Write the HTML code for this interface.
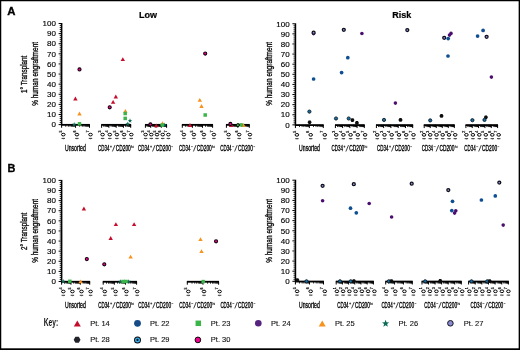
<!DOCTYPE html>
<html><head><meta charset="utf-8"><title>Figure</title>
<style>html,body{margin:0;padding:0;background:#fff;}svg{display:block;will-change:transform}text{font-family:"Liberation Sans",sans-serif;}</style>
</head><body>
<svg width="520" height="350" viewBox="0 0 520 350">
<rect x="0" y="0" width="520" height="350" fill="#fff"/>
<defs><filter id="b" x="-5%" y="-5%" width="110%" height="110%"><feGaussianBlur stdDeviation="0.3"/></filter></defs>
<g filter="url(#b)">
<text x="7.3" y="15.4" font-size="10.3" font-weight="bold" textLength="8.2" lengthAdjust="spacingAndGlyphs" fill="#000" stroke="#000" stroke-width="0.3" font-family="Liberation Sans, sans-serif">A</text>
<text x="7.5" y="172.2" font-size="10.3" font-weight="bold" textLength="7.9" lengthAdjust="spacingAndGlyphs" fill="#000" stroke="#000" stroke-width="0.3" font-family="Liberation Sans, sans-serif">B</text>
<text x="139" y="18" font-size="9" font-weight="bold" fill="#000" stroke="#000" stroke-width="0.2" font-family="Liberation Sans, sans-serif">Low</text>
<text x="392.3" y="18" font-size="9" font-weight="bold" fill="#000" stroke="#000" stroke-width="0.2" font-family="Liberation Sans, sans-serif">Risk</text>
<g transform="translate(27.10,92.95) rotate(-90)"><text x="0" y="0" font-size="8.6" textLength="37.30" lengthAdjust="spacingAndGlyphs" fill="#000" stroke="#000" stroke-width="0.3" font-family="Liberation Sans, sans-serif">1° Transplant</text></g>
<g transform="translate(38.00,105.85) rotate(-90)"><text x="0" y="0" font-size="8.6" textLength="63.90" lengthAdjust="spacingAndGlyphs" fill="#000" stroke="#000" stroke-width="0.3" font-family="Liberation Sans, sans-serif">% human engraftment</text></g>
<g transform="translate(27.10,249.95) rotate(-90)"><text x="0" y="0" font-size="8.6" textLength="37.30" lengthAdjust="spacingAndGlyphs" fill="#000" stroke="#000" stroke-width="0.3" font-family="Liberation Sans, sans-serif">2° Transplant</text></g>
<g transform="translate(38.00,262.85) rotate(-90)"><text x="0" y="0" font-size="8.6" textLength="63.90" lengthAdjust="spacingAndGlyphs" fill="#000" stroke="#000" stroke-width="0.3" font-family="Liberation Sans, sans-serif">% human engraftment</text></g>
<g transform="translate(271.90,105.85) rotate(-90)"><text x="0" y="0" font-size="8.6" textLength="63.90" lengthAdjust="spacingAndGlyphs" fill="#000" stroke="#000" stroke-width="0.3" font-family="Liberation Sans, sans-serif">% human engraftment</text></g>
<g transform="translate(271.90,262.85) rotate(-90)"><text x="0" y="0" font-size="8.6" textLength="63.90" lengthAdjust="spacingAndGlyphs" fill="#000" stroke="#000" stroke-width="0.3" font-family="Liberation Sans, sans-serif">% human engraftment</text></g>
<rect x="60.80" y="23.00" width="1.6" height="102.40" fill="#000"/>
<rect x="58.60" y="124.10" width="2.4" height="1" fill="#000"/>
<rect x="59.70" y="122.18" width="1.3" height="0.8" fill="#000"/>
<rect x="59.70" y="120.16" width="1.3" height="0.8" fill="#000"/>
<rect x="59.70" y="118.13" width="1.3" height="0.8" fill="#000"/>
<rect x="59.70" y="116.11" width="1.3" height="0.8" fill="#000"/>
<rect x="58.60" y="113.99" width="2.4" height="1" fill="#000"/>
<rect x="59.70" y="112.07" width="1.3" height="0.8" fill="#000"/>
<rect x="59.70" y="110.05" width="1.3" height="0.8" fill="#000"/>
<rect x="59.70" y="108.02" width="1.3" height="0.8" fill="#000"/>
<rect x="59.70" y="106.00" width="1.3" height="0.8" fill="#000"/>
<rect x="58.60" y="103.88" width="2.4" height="1" fill="#000"/>
<rect x="59.70" y="101.96" width="1.3" height="0.8" fill="#000"/>
<rect x="59.70" y="99.94" width="1.3" height="0.8" fill="#000"/>
<rect x="59.70" y="97.91" width="1.3" height="0.8" fill="#000"/>
<rect x="59.70" y="95.89" width="1.3" height="0.8" fill="#000"/>
<rect x="58.60" y="93.77" width="2.4" height="1" fill="#000"/>
<rect x="59.70" y="91.85" width="1.3" height="0.8" fill="#000"/>
<rect x="59.70" y="89.83" width="1.3" height="0.8" fill="#000"/>
<rect x="59.70" y="87.80" width="1.3" height="0.8" fill="#000"/>
<rect x="59.70" y="85.78" width="1.3" height="0.8" fill="#000"/>
<rect x="58.60" y="83.66" width="2.4" height="1" fill="#000"/>
<rect x="59.70" y="81.74" width="1.3" height="0.8" fill="#000"/>
<rect x="59.70" y="79.72" width="1.3" height="0.8" fill="#000"/>
<rect x="59.70" y="77.69" width="1.3" height="0.8" fill="#000"/>
<rect x="59.70" y="75.67" width="1.3" height="0.8" fill="#000"/>
<rect x="58.60" y="73.55" width="2.4" height="1" fill="#000"/>
<rect x="59.70" y="71.63" width="1.3" height="0.8" fill="#000"/>
<rect x="59.70" y="69.61" width="1.3" height="0.8" fill="#000"/>
<rect x="59.70" y="67.58" width="1.3" height="0.8" fill="#000"/>
<rect x="59.70" y="65.56" width="1.3" height="0.8" fill="#000"/>
<rect x="58.60" y="63.44" width="2.4" height="1" fill="#000"/>
<rect x="59.70" y="61.52" width="1.3" height="0.8" fill="#000"/>
<rect x="59.70" y="59.50" width="1.3" height="0.8" fill="#000"/>
<rect x="59.70" y="57.47" width="1.3" height="0.8" fill="#000"/>
<rect x="59.70" y="55.45" width="1.3" height="0.8" fill="#000"/>
<rect x="58.60" y="53.33" width="2.4" height="1" fill="#000"/>
<rect x="59.70" y="51.41" width="1.3" height="0.8" fill="#000"/>
<rect x="59.70" y="49.39" width="1.3" height="0.8" fill="#000"/>
<rect x="59.70" y="47.36" width="1.3" height="0.8" fill="#000"/>
<rect x="59.70" y="45.34" width="1.3" height="0.8" fill="#000"/>
<rect x="58.60" y="43.22" width="2.4" height="1" fill="#000"/>
<rect x="59.70" y="41.30" width="1.3" height="0.8" fill="#000"/>
<rect x="59.70" y="39.28" width="1.3" height="0.8" fill="#000"/>
<rect x="59.70" y="37.25" width="1.3" height="0.8" fill="#000"/>
<rect x="59.70" y="35.23" width="1.3" height="0.8" fill="#000"/>
<rect x="58.60" y="33.11" width="2.4" height="1" fill="#000"/>
<rect x="59.70" y="31.19" width="1.3" height="0.8" fill="#000"/>
<rect x="59.70" y="29.17" width="1.3" height="0.8" fill="#000"/>
<rect x="59.70" y="27.14" width="1.3" height="0.8" fill="#000"/>
<rect x="59.70" y="25.12" width="1.3" height="0.8" fill="#000"/>
<rect x="58.60" y="23.00" width="2.4" height="1" fill="#000"/>
<text x="55.90" y="127.35" font-size="8" text-anchor="end" fill="#000" stroke="#000" stroke-width="0.15" font-family="Liberation Sans, sans-serif">0</text>
<text x="55.90" y="117.24" font-size="8" text-anchor="end" fill="#000" stroke="#000" stroke-width="0.15" font-family="Liberation Sans, sans-serif">10</text>
<text x="55.90" y="107.13" font-size="8" text-anchor="end" fill="#000" stroke="#000" stroke-width="0.15" font-family="Liberation Sans, sans-serif">20</text>
<text x="55.90" y="97.02" font-size="8" text-anchor="end" fill="#000" stroke="#000" stroke-width="0.15" font-family="Liberation Sans, sans-serif">30</text>
<text x="55.90" y="86.91" font-size="8" text-anchor="end" fill="#000" stroke="#000" stroke-width="0.15" font-family="Liberation Sans, sans-serif">40</text>
<text x="55.90" y="76.80" font-size="8" text-anchor="end" fill="#000" stroke="#000" stroke-width="0.15" font-family="Liberation Sans, sans-serif">50</text>
<text x="55.90" y="66.69" font-size="8" text-anchor="end" fill="#000" stroke="#000" stroke-width="0.15" font-family="Liberation Sans, sans-serif">60</text>
<text x="55.90" y="56.58" font-size="8" text-anchor="end" fill="#000" stroke="#000" stroke-width="0.15" font-family="Liberation Sans, sans-serif">70</text>
<text x="55.90" y="46.47" font-size="8" text-anchor="end" fill="#000" stroke="#000" stroke-width="0.15" font-family="Liberation Sans, sans-serif">80</text>
<text x="55.90" y="36.36" font-size="8" text-anchor="end" fill="#000" stroke="#000" stroke-width="0.15" font-family="Liberation Sans, sans-serif">90</text>
<text x="55.90" y="26.25" font-size="8" text-anchor="end" fill="#000" stroke="#000" stroke-width="0.15" font-family="Liberation Sans, sans-serif">100</text>
<rect x="61.20" y="123.95" width="28.70" height="1.8" fill="#000"/>
<rect x="61.10" y="124.60" width="1" height="3.2" fill="#000"/>
<rect x="65.40" y="124.60" width="0.8" height="2.2" fill="#000"/>
<rect x="67.86" y="124.60" width="0.8" height="2.2" fill="#000"/>
<rect x="69.60" y="124.60" width="0.8" height="2.2" fill="#000"/>
<rect x="70.95" y="124.60" width="0.8" height="2.2" fill="#000"/>
<rect x="72.06" y="124.60" width="0.8" height="2.2" fill="#000"/>
<rect x="72.99" y="124.60" width="0.8" height="2.2" fill="#000"/>
<rect x="73.80" y="124.60" width="0.8" height="2.2" fill="#000"/>
<rect x="74.51" y="124.60" width="0.8" height="2.2" fill="#000"/>
<rect x="75.05" y="124.60" width="1" height="3.2" fill="#000"/>
<rect x="79.35" y="124.60" width="0.8" height="2.2" fill="#000"/>
<rect x="81.81" y="124.60" width="0.8" height="2.2" fill="#000"/>
<rect x="83.55" y="124.60" width="0.8" height="2.2" fill="#000"/>
<rect x="84.90" y="124.60" width="0.8" height="2.2" fill="#000"/>
<rect x="86.01" y="124.60" width="0.8" height="2.2" fill="#000"/>
<rect x="86.94" y="124.60" width="0.8" height="2.2" fill="#000"/>
<rect x="87.75" y="124.60" width="0.8" height="2.2" fill="#000"/>
<rect x="88.46" y="124.60" width="0.8" height="2.2" fill="#000"/>
<rect x="89.00" y="124.60" width="1" height="3.2" fill="#000"/>
<line x1="61.60" y1="138.40" x2="65.00" y2="138.40" stroke="#111" stroke-width="0.85"/>
<line x1="64.20" y1="138.20" x2="63.40" y2="139.40" stroke="#555" stroke-width="0.6"/>
<ellipse cx="63.30" cy="134.60" rx="1.8" ry="1.35" fill="none" stroke="#000" stroke-width="1.0"/>
<g class="tl" transform="translate(61.90,132.60) rotate(-90)"><text x="0" y="0" font-size="3.6" fill="#000" stroke="#000" stroke-width="0.2" font-family="Liberation Sans, sans-serif">5</text></g>
<line x1="75.20" y1="138.40" x2="78.60" y2="138.40" stroke="#111" stroke-width="0.85"/>
<line x1="77.80" y1="138.20" x2="77.00" y2="139.40" stroke="#555" stroke-width="0.6"/>
<ellipse cx="76.90" cy="134.60" rx="1.8" ry="1.35" fill="none" stroke="#000" stroke-width="1.0"/>
<g class="tl" transform="translate(75.50,132.60) rotate(-90)"><text x="0" y="0" font-size="3.6" fill="#000" stroke="#000" stroke-width="0.2" font-family="Liberation Sans, sans-serif">6</text></g>
<line x1="88.80" y1="138.40" x2="92.20" y2="138.40" stroke="#111" stroke-width="0.85"/>
<line x1="91.40" y1="138.20" x2="90.60" y2="139.40" stroke="#555" stroke-width="0.6"/>
<ellipse cx="90.50" cy="134.60" rx="1.8" ry="1.35" fill="none" stroke="#000" stroke-width="1.0"/>
<g class="tl" transform="translate(89.10,132.60) rotate(-90)"><text x="0" y="0" font-size="3.6" fill="#000" stroke="#000" stroke-width="0.2" font-family="Liberation Sans, sans-serif">7</text></g>
<rect x="101.20" y="123.95" width="29.90" height="1.8" fill="#000"/>
<rect x="101.10" y="124.60" width="1" height="3.2" fill="#000"/>
<rect x="103.39" y="124.60" width="0.8" height="2.2" fill="#000"/>
<rect x="104.67" y="124.60" width="0.8" height="2.2" fill="#000"/>
<rect x="105.58" y="124.60" width="0.8" height="2.2" fill="#000"/>
<rect x="106.29" y="124.60" width="0.8" height="2.2" fill="#000"/>
<rect x="106.86" y="124.60" width="0.8" height="2.2" fill="#000"/>
<rect x="107.35" y="124.60" width="0.8" height="2.2" fill="#000"/>
<rect x="107.77" y="124.60" width="0.8" height="2.2" fill="#000"/>
<rect x="108.14" y="124.60" width="0.8" height="2.2" fill="#000"/>
<rect x="108.38" y="124.60" width="1" height="3.2" fill="#000"/>
<rect x="110.66" y="124.60" width="0.8" height="2.2" fill="#000"/>
<rect x="111.95" y="124.60" width="0.8" height="2.2" fill="#000"/>
<rect x="112.85" y="124.60" width="0.8" height="2.2" fill="#000"/>
<rect x="113.56" y="124.60" width="0.8" height="2.2" fill="#000"/>
<rect x="114.14" y="124.60" width="0.8" height="2.2" fill="#000"/>
<rect x="114.62" y="124.60" width="0.8" height="2.2" fill="#000"/>
<rect x="115.04" y="124.60" width="0.8" height="2.2" fill="#000"/>
<rect x="115.42" y="124.60" width="0.8" height="2.2" fill="#000"/>
<rect x="115.65" y="124.60" width="1" height="3.2" fill="#000"/>
<rect x="117.94" y="124.60" width="0.8" height="2.2" fill="#000"/>
<rect x="119.22" y="124.60" width="0.8" height="2.2" fill="#000"/>
<rect x="120.13" y="124.60" width="0.8" height="2.2" fill="#000"/>
<rect x="120.84" y="124.60" width="0.8" height="2.2" fill="#000"/>
<rect x="121.41" y="124.60" width="0.8" height="2.2" fill="#000"/>
<rect x="121.90" y="124.60" width="0.8" height="2.2" fill="#000"/>
<rect x="122.32" y="124.60" width="0.8" height="2.2" fill="#000"/>
<rect x="122.69" y="124.60" width="0.8" height="2.2" fill="#000"/>
<rect x="122.92" y="124.60" width="1" height="3.2" fill="#000"/>
<rect x="125.21" y="124.60" width="0.8" height="2.2" fill="#000"/>
<rect x="126.50" y="124.60" width="0.8" height="2.2" fill="#000"/>
<rect x="127.40" y="124.60" width="0.8" height="2.2" fill="#000"/>
<rect x="128.11" y="124.60" width="0.8" height="2.2" fill="#000"/>
<rect x="128.69" y="124.60" width="0.8" height="2.2" fill="#000"/>
<rect x="129.17" y="124.60" width="0.8" height="2.2" fill="#000"/>
<rect x="129.59" y="124.60" width="0.8" height="2.2" fill="#000"/>
<rect x="129.97" y="124.60" width="0.8" height="2.2" fill="#000"/>
<rect x="130.20" y="124.60" width="1" height="3.2" fill="#000"/>
<line x1="100.90" y1="138.40" x2="104.30" y2="138.40" stroke="#111" stroke-width="0.85"/>
<line x1="103.50" y1="138.20" x2="102.70" y2="139.40" stroke="#555" stroke-width="0.6"/>
<ellipse cx="102.60" cy="134.60" rx="1.8" ry="1.35" fill="none" stroke="#000" stroke-width="1.0"/>
<g class="tl" transform="translate(101.20,132.60) rotate(-90)"><text x="0" y="0" font-size="3.6" fill="#000" stroke="#000" stroke-width="0.2" font-family="Liberation Sans, sans-serif">3</text></g>
<line x1="108.10" y1="138.40" x2="111.50" y2="138.40" stroke="#111" stroke-width="0.85"/>
<line x1="110.70" y1="138.20" x2="109.90" y2="139.40" stroke="#555" stroke-width="0.6"/>
<ellipse cx="109.80" cy="134.60" rx="1.8" ry="1.35" fill="none" stroke="#000" stroke-width="1.0"/>
<g class="tl" transform="translate(108.40,132.60) rotate(-90)"><text x="0" y="0" font-size="3.6" fill="#000" stroke="#000" stroke-width="0.2" font-family="Liberation Sans, sans-serif">4</text></g>
<line x1="115.20" y1="138.40" x2="118.60" y2="138.40" stroke="#111" stroke-width="0.85"/>
<line x1="117.80" y1="138.20" x2="117.00" y2="139.40" stroke="#555" stroke-width="0.6"/>
<ellipse cx="116.90" cy="134.60" rx="1.8" ry="1.35" fill="none" stroke="#000" stroke-width="1.0"/>
<g class="tl" transform="translate(115.50,132.60) rotate(-90)"><text x="0" y="0" font-size="3.6" fill="#000" stroke="#000" stroke-width="0.2" font-family="Liberation Sans, sans-serif">5</text></g>
<line x1="122.40" y1="138.40" x2="125.80" y2="138.40" stroke="#111" stroke-width="0.85"/>
<line x1="125.00" y1="138.20" x2="124.20" y2="139.40" stroke="#555" stroke-width="0.6"/>
<ellipse cx="124.10" cy="134.60" rx="1.8" ry="1.35" fill="none" stroke="#000" stroke-width="1.0"/>
<g class="tl" transform="translate(122.70,132.60) rotate(-90)"><text x="0" y="0" font-size="3.6" fill="#000" stroke="#000" stroke-width="0.2" font-family="Liberation Sans, sans-serif">6</text></g>
<line x1="129.60" y1="138.40" x2="133.00" y2="138.40" stroke="#111" stroke-width="0.85"/>
<line x1="132.20" y1="138.20" x2="131.40" y2="139.40" stroke="#555" stroke-width="0.6"/>
<ellipse cx="131.30" cy="134.60" rx="1.8" ry="1.35" fill="none" stroke="#000" stroke-width="1.0"/>
<g class="tl" transform="translate(129.90,132.60) rotate(-90)"><text x="0" y="0" font-size="3.6" fill="#000" stroke="#000" stroke-width="0.2" font-family="Liberation Sans, sans-serif">7</text></g>
<rect x="145.00" y="123.95" width="22.00" height="1.8" fill="#000"/>
<rect x="144.90" y="124.60" width="1" height="3.2" fill="#000"/>
<rect x="146.60" y="124.60" width="0.8" height="2.2" fill="#000"/>
<rect x="147.53" y="124.60" width="0.8" height="2.2" fill="#000"/>
<rect x="148.19" y="124.60" width="0.8" height="2.2" fill="#000"/>
<rect x="148.70" y="124.60" width="0.8" height="2.2" fill="#000"/>
<rect x="149.12" y="124.60" width="0.8" height="2.2" fill="#000"/>
<rect x="149.48" y="124.60" width="0.8" height="2.2" fill="#000"/>
<rect x="149.79" y="124.60" width="0.8" height="2.2" fill="#000"/>
<rect x="150.06" y="124.60" width="0.8" height="2.2" fill="#000"/>
<rect x="150.20" y="124.60" width="1" height="3.2" fill="#000"/>
<rect x="151.90" y="124.60" width="0.8" height="2.2" fill="#000"/>
<rect x="152.83" y="124.60" width="0.8" height="2.2" fill="#000"/>
<rect x="153.49" y="124.60" width="0.8" height="2.2" fill="#000"/>
<rect x="154.00" y="124.60" width="0.8" height="2.2" fill="#000"/>
<rect x="154.42" y="124.60" width="0.8" height="2.2" fill="#000"/>
<rect x="154.78" y="124.60" width="0.8" height="2.2" fill="#000"/>
<rect x="155.09" y="124.60" width="0.8" height="2.2" fill="#000"/>
<rect x="155.36" y="124.60" width="0.8" height="2.2" fill="#000"/>
<rect x="155.50" y="124.60" width="1" height="3.2" fill="#000"/>
<rect x="157.20" y="124.60" width="0.8" height="2.2" fill="#000"/>
<rect x="158.13" y="124.60" width="0.8" height="2.2" fill="#000"/>
<rect x="158.79" y="124.60" width="0.8" height="2.2" fill="#000"/>
<rect x="159.30" y="124.60" width="0.8" height="2.2" fill="#000"/>
<rect x="159.72" y="124.60" width="0.8" height="2.2" fill="#000"/>
<rect x="160.08" y="124.60" width="0.8" height="2.2" fill="#000"/>
<rect x="160.39" y="124.60" width="0.8" height="2.2" fill="#000"/>
<rect x="160.66" y="124.60" width="0.8" height="2.2" fill="#000"/>
<rect x="160.80" y="124.60" width="1" height="3.2" fill="#000"/>
<rect x="162.50" y="124.60" width="0.8" height="2.2" fill="#000"/>
<rect x="163.43" y="124.60" width="0.8" height="2.2" fill="#000"/>
<rect x="164.09" y="124.60" width="0.8" height="2.2" fill="#000"/>
<rect x="164.60" y="124.60" width="0.8" height="2.2" fill="#000"/>
<rect x="165.02" y="124.60" width="0.8" height="2.2" fill="#000"/>
<rect x="165.38" y="124.60" width="0.8" height="2.2" fill="#000"/>
<rect x="165.69" y="124.60" width="0.8" height="2.2" fill="#000"/>
<rect x="165.96" y="124.60" width="0.8" height="2.2" fill="#000"/>
<rect x="166.10" y="124.60" width="1" height="3.2" fill="#000"/>
<line x1="143.90" y1="138.40" x2="147.30" y2="138.40" stroke="#111" stroke-width="0.85"/>
<line x1="146.50" y1="138.20" x2="145.70" y2="139.40" stroke="#555" stroke-width="0.6"/>
<ellipse cx="145.60" cy="134.60" rx="1.8" ry="1.35" fill="none" stroke="#000" stroke-width="1.0"/>
<g class="tl" transform="translate(144.20,132.60) rotate(-90)"><text x="0" y="0" font-size="3.6" fill="#000" stroke="#000" stroke-width="0.2" font-family="Liberation Sans, sans-serif">3</text></g>
<line x1="149.60" y1="138.40" x2="153.00" y2="138.40" stroke="#111" stroke-width="0.85"/>
<line x1="152.20" y1="138.20" x2="151.40" y2="139.40" stroke="#555" stroke-width="0.6"/>
<ellipse cx="151.30" cy="134.60" rx="1.8" ry="1.35" fill="none" stroke="#000" stroke-width="1.0"/>
<g class="tl" transform="translate(149.90,132.60) rotate(-90)"><text x="0" y="0" font-size="3.6" fill="#000" stroke="#000" stroke-width="0.2" font-family="Liberation Sans, sans-serif">4</text></g>
<line x1="155.30" y1="138.40" x2="158.70" y2="138.40" stroke="#111" stroke-width="0.85"/>
<line x1="157.90" y1="138.20" x2="157.10" y2="139.40" stroke="#555" stroke-width="0.6"/>
<ellipse cx="157.00" cy="134.60" rx="1.8" ry="1.35" fill="none" stroke="#000" stroke-width="1.0"/>
<g class="tl" transform="translate(155.60,132.60) rotate(-90)"><text x="0" y="0" font-size="3.6" fill="#000" stroke="#000" stroke-width="0.2" font-family="Liberation Sans, sans-serif">5</text></g>
<line x1="161.00" y1="138.40" x2="164.40" y2="138.40" stroke="#111" stroke-width="0.85"/>
<line x1="163.60" y1="138.20" x2="162.80" y2="139.40" stroke="#555" stroke-width="0.6"/>
<ellipse cx="162.70" cy="134.60" rx="1.8" ry="1.35" fill="none" stroke="#000" stroke-width="1.0"/>
<g class="tl" transform="translate(161.30,132.60) rotate(-90)"><text x="0" y="0" font-size="3.6" fill="#000" stroke="#000" stroke-width="0.2" font-family="Liberation Sans, sans-serif">6</text></g>
<line x1="166.70" y1="138.40" x2="170.10" y2="138.40" stroke="#111" stroke-width="0.85"/>
<line x1="169.30" y1="138.20" x2="168.50" y2="139.40" stroke="#555" stroke-width="0.6"/>
<ellipse cx="168.40" cy="134.60" rx="1.8" ry="1.35" fill="none" stroke="#000" stroke-width="1.0"/>
<g class="tl" transform="translate(167.00,132.60) rotate(-90)"><text x="0" y="0" font-size="3.6" fill="#000" stroke="#000" stroke-width="0.2" font-family="Liberation Sans, sans-serif">7</text></g>
<rect x="181.90" y="123.95" width="31.10" height="1.8" fill="#000"/>
<rect x="181.80" y="124.60" width="1" height="3.2" fill="#000"/>
<rect x="184.94" y="124.60" width="0.8" height="2.2" fill="#000"/>
<rect x="186.72" y="124.60" width="0.8" height="2.2" fill="#000"/>
<rect x="187.98" y="124.60" width="0.8" height="2.2" fill="#000"/>
<rect x="188.96" y="124.60" width="0.8" height="2.2" fill="#000"/>
<rect x="189.76" y="124.60" width="0.8" height="2.2" fill="#000"/>
<rect x="190.44" y="124.60" width="0.8" height="2.2" fill="#000"/>
<rect x="191.02" y="124.60" width="0.8" height="2.2" fill="#000"/>
<rect x="191.54" y="124.60" width="0.8" height="2.2" fill="#000"/>
<rect x="191.90" y="124.60" width="1" height="3.2" fill="#000"/>
<rect x="195.04" y="124.60" width="0.8" height="2.2" fill="#000"/>
<rect x="196.82" y="124.60" width="0.8" height="2.2" fill="#000"/>
<rect x="198.08" y="124.60" width="0.8" height="2.2" fill="#000"/>
<rect x="199.06" y="124.60" width="0.8" height="2.2" fill="#000"/>
<rect x="199.86" y="124.60" width="0.8" height="2.2" fill="#000"/>
<rect x="200.54" y="124.60" width="0.8" height="2.2" fill="#000"/>
<rect x="201.12" y="124.60" width="0.8" height="2.2" fill="#000"/>
<rect x="201.64" y="124.60" width="0.8" height="2.2" fill="#000"/>
<rect x="202.00" y="124.60" width="1" height="3.2" fill="#000"/>
<rect x="205.14" y="124.60" width="0.8" height="2.2" fill="#000"/>
<rect x="206.92" y="124.60" width="0.8" height="2.2" fill="#000"/>
<rect x="208.18" y="124.60" width="0.8" height="2.2" fill="#000"/>
<rect x="209.16" y="124.60" width="0.8" height="2.2" fill="#000"/>
<rect x="209.96" y="124.60" width="0.8" height="2.2" fill="#000"/>
<rect x="210.64" y="124.60" width="0.8" height="2.2" fill="#000"/>
<rect x="211.22" y="124.60" width="0.8" height="2.2" fill="#000"/>
<rect x="211.74" y="124.60" width="0.8" height="2.2" fill="#000"/>
<rect x="212.10" y="124.60" width="1" height="3.2" fill="#000"/>
<line x1="182.20" y1="138.40" x2="185.60" y2="138.40" stroke="#111" stroke-width="0.85"/>
<line x1="184.80" y1="138.20" x2="184.00" y2="139.40" stroke="#555" stroke-width="0.6"/>
<ellipse cx="183.90" cy="134.60" rx="1.8" ry="1.35" fill="none" stroke="#000" stroke-width="1.0"/>
<g class="tl" transform="translate(182.50,132.60) rotate(-90)"><text x="0" y="0" font-size="3.6" fill="#000" stroke="#000" stroke-width="0.2" font-family="Liberation Sans, sans-serif">4</text></g>
<line x1="192.20" y1="138.40" x2="195.60" y2="138.40" stroke="#111" stroke-width="0.85"/>
<line x1="194.80" y1="138.20" x2="194.00" y2="139.40" stroke="#555" stroke-width="0.6"/>
<ellipse cx="193.90" cy="134.60" rx="1.8" ry="1.35" fill="none" stroke="#000" stroke-width="1.0"/>
<g class="tl" transform="translate(192.50,132.60) rotate(-90)"><text x="0" y="0" font-size="3.6" fill="#000" stroke="#000" stroke-width="0.2" font-family="Liberation Sans, sans-serif">5</text></g>
<line x1="202.20" y1="138.40" x2="205.60" y2="138.40" stroke="#111" stroke-width="0.85"/>
<line x1="204.80" y1="138.20" x2="204.00" y2="139.40" stroke="#555" stroke-width="0.6"/>
<ellipse cx="203.90" cy="134.60" rx="1.8" ry="1.35" fill="none" stroke="#000" stroke-width="1.0"/>
<g class="tl" transform="translate(202.50,132.60) rotate(-90)"><text x="0" y="0" font-size="3.6" fill="#000" stroke="#000" stroke-width="0.2" font-family="Liberation Sans, sans-serif">6</text></g>
<line x1="212.20" y1="138.40" x2="215.60" y2="138.40" stroke="#111" stroke-width="0.85"/>
<line x1="214.80" y1="138.20" x2="214.00" y2="139.40" stroke="#555" stroke-width="0.6"/>
<ellipse cx="213.90" cy="134.60" rx="1.8" ry="1.35" fill="none" stroke="#000" stroke-width="1.0"/>
<g class="tl" transform="translate(212.50,132.60) rotate(-90)"><text x="0" y="0" font-size="3.6" fill="#000" stroke="#000" stroke-width="0.2" font-family="Liberation Sans, sans-serif">7</text></g>
<rect x="226.00" y="123.95" width="23.70" height="1.8" fill="#000"/>
<rect x="225.90" y="124.60" width="1" height="3.2" fill="#000"/>
<rect x="229.45" y="124.60" width="0.8" height="2.2" fill="#000"/>
<rect x="231.46" y="124.60" width="0.8" height="2.2" fill="#000"/>
<rect x="232.89" y="124.60" width="0.8" height="2.2" fill="#000"/>
<rect x="234.00" y="124.60" width="0.8" height="2.2" fill="#000"/>
<rect x="234.91" y="124.60" width="0.8" height="2.2" fill="#000"/>
<rect x="235.68" y="124.60" width="0.8" height="2.2" fill="#000"/>
<rect x="236.34" y="124.60" width="0.8" height="2.2" fill="#000"/>
<rect x="236.93" y="124.60" width="0.8" height="2.2" fill="#000"/>
<rect x="237.35" y="124.60" width="1" height="3.2" fill="#000"/>
<rect x="240.90" y="124.60" width="0.8" height="2.2" fill="#000"/>
<rect x="242.91" y="124.60" width="0.8" height="2.2" fill="#000"/>
<rect x="244.34" y="124.60" width="0.8" height="2.2" fill="#000"/>
<rect x="245.45" y="124.60" width="0.8" height="2.2" fill="#000"/>
<rect x="246.36" y="124.60" width="0.8" height="2.2" fill="#000"/>
<rect x="247.13" y="124.60" width="0.8" height="2.2" fill="#000"/>
<rect x="247.79" y="124.60" width="0.8" height="2.2" fill="#000"/>
<rect x="248.38" y="124.60" width="0.8" height="2.2" fill="#000"/>
<rect x="248.80" y="124.60" width="1" height="3.2" fill="#000"/>
<line x1="226.90" y1="138.40" x2="230.30" y2="138.40" stroke="#111" stroke-width="0.85"/>
<line x1="229.50" y1="138.20" x2="228.70" y2="139.40" stroke="#555" stroke-width="0.6"/>
<ellipse cx="228.60" cy="134.60" rx="1.8" ry="1.35" fill="none" stroke="#000" stroke-width="1.0"/>
<g class="tl" transform="translate(227.20,132.60) rotate(-90)"><text x="0" y="0" font-size="3.6" fill="#000" stroke="#000" stroke-width="0.2" font-family="Liberation Sans, sans-serif">5</text></g>
<line x1="237.50" y1="138.40" x2="240.90" y2="138.40" stroke="#111" stroke-width="0.85"/>
<line x1="240.10" y1="138.20" x2="239.30" y2="139.40" stroke="#555" stroke-width="0.6"/>
<ellipse cx="239.20" cy="134.60" rx="1.8" ry="1.35" fill="none" stroke="#000" stroke-width="1.0"/>
<g class="tl" transform="translate(237.80,132.60) rotate(-90)"><text x="0" y="0" font-size="3.6" fill="#000" stroke="#000" stroke-width="0.2" font-family="Liberation Sans, sans-serif">6</text></g>
<line x1="248.20" y1="138.40" x2="251.60" y2="138.40" stroke="#111" stroke-width="0.85"/>
<line x1="250.80" y1="138.20" x2="250.00" y2="139.40" stroke="#555" stroke-width="0.6"/>
<ellipse cx="249.90" cy="134.60" rx="1.8" ry="1.35" fill="none" stroke="#000" stroke-width="1.0"/>
<g class="tl" transform="translate(248.50,132.60) rotate(-90)"><text x="0" y="0" font-size="3.6" fill="#000" stroke="#000" stroke-width="0.2" font-family="Liberation Sans, sans-serif">7</text></g>
<text x="65.00" y="151.00" font-size="8.3" textLength="20.80" lengthAdjust="spacingAndGlyphs" fill="#000" stroke="#000" stroke-width="0.34" font-family="Liberation Sans, sans-serif">Unsorted</text>
<text x="98.00" y="151.00" font-size="8.3" textLength="11.40" lengthAdjust="spacingAndGlyphs" fill="#000" stroke="#000" stroke-width="0.34" font-family="Liberation Sans, sans-serif">CD34</text>
<line x1="110.00" y1="146.60" x2="111.90" y2="146.60" stroke="#111" stroke-width="0.55"/>
<line x1="110.95" y1="145.60" x2="110.95" y2="147.60" stroke="#111" stroke-width="0.7"/>
<line x1="112.40" y1="151.50" x2="115.00" y2="145.10" stroke="#111" stroke-width="0.8"/>
<text x="115.70" y="151.00" font-size="8.3" textLength="15.10" lengthAdjust="spacingAndGlyphs" fill="#000" stroke="#000" stroke-width="0.34" font-family="Liberation Sans, sans-serif">CD200</text>
<text x="131.10" y="147.70" font-size="3.2" textLength="2.70" lengthAdjust="spacingAndGlyphs" fill="#000" stroke="#000" stroke-width="0.12" font-family="Liberation Sans, sans-serif">hi</text>
<text x="138.10" y="151.00" font-size="8.3" textLength="11.40" lengthAdjust="spacingAndGlyphs" fill="#000" stroke="#000" stroke-width="0.34" font-family="Liberation Sans, sans-serif">CD34</text>
<line x1="150.10" y1="146.60" x2="152.00" y2="146.60" stroke="#111" stroke-width="0.55"/>
<line x1="151.05" y1="145.60" x2="151.05" y2="147.60" stroke="#111" stroke-width="0.7"/>
<line x1="152.50" y1="151.50" x2="155.10" y2="145.10" stroke="#111" stroke-width="0.8"/>
<text x="155.80" y="151.00" font-size="8.3" textLength="15.10" lengthAdjust="spacingAndGlyphs" fill="#000" stroke="#000" stroke-width="0.34" font-family="Liberation Sans, sans-serif">CD200</text>
<line x1="171.30" y1="146.60" x2="173.00" y2="146.60" stroke="#111" stroke-width="0.55"/>
<text x="179.00" y="151.00" font-size="8.3" textLength="11.40" lengthAdjust="spacingAndGlyphs" fill="#000" stroke="#000" stroke-width="0.34" font-family="Liberation Sans, sans-serif">CD34</text>
<line x1="191.00" y1="146.60" x2="192.90" y2="146.60" stroke="#111" stroke-width="0.55"/>
<line x1="193.40" y1="151.50" x2="196.00" y2="145.10" stroke="#111" stroke-width="0.8"/>
<text x="196.70" y="151.00" font-size="8.3" textLength="15.10" lengthAdjust="spacingAndGlyphs" fill="#000" stroke="#000" stroke-width="0.34" font-family="Liberation Sans, sans-serif">CD200</text>
<text x="212.10" y="147.70" font-size="3.2" textLength="2.70" lengthAdjust="spacingAndGlyphs" fill="#000" stroke="#000" stroke-width="0.12" font-family="Liberation Sans, sans-serif">hi</text>
<text x="220.20" y="151.00" font-size="8.3" textLength="11.40" lengthAdjust="spacingAndGlyphs" fill="#000" stroke="#000" stroke-width="0.34" font-family="Liberation Sans, sans-serif">CD34</text>
<line x1="232.20" y1="146.60" x2="234.10" y2="146.60" stroke="#111" stroke-width="0.55"/>
<line x1="234.60" y1="151.50" x2="237.20" y2="145.10" stroke="#111" stroke-width="0.8"/>
<text x="237.90" y="151.00" font-size="8.3" textLength="15.10" lengthAdjust="spacingAndGlyphs" fill="#000" stroke="#000" stroke-width="0.34" font-family="Liberation Sans, sans-serif">CD200</text>
<line x1="253.40" y1="146.60" x2="255.10" y2="146.60" stroke="#111" stroke-width="0.55"/>
<polygon points="75.40,96.60 77.60,100.40 73.20,100.40" fill="#c5112e"/>
<polygon points="79.50,111.60 81.70,115.40 77.30,115.40" fill="#f7931e"/>
<polygon points="74.20,122.10 74.79,123.68 76.48,123.76 75.16,124.81 75.61,126.44 74.20,125.51 72.79,126.44 73.24,124.81 71.92,123.76 73.61,123.68" fill="#0b6b57"/>
<rect x="77.75" y="122.05" width="3.5" height="3.5" fill="#3bb54a"/>
<circle cx="79.50" cy="69.40" r="1.55" fill="#ec008c" stroke="#12060c" stroke-width="1.05"/>
<polygon points="122.80,57.20 125.00,61.00 120.60,61.00" fill="#c5112e"/>
<polygon points="115.80,94.60 118.00,98.40 113.60,98.40" fill="#c5112e"/>
<polygon points="113.10,100.00 115.30,103.80 110.90,103.80" fill="#c5112e"/>
<circle cx="109.70" cy="107.30" r="1.55" fill="#ec008c" stroke="#12060c" stroke-width="1.05"/>
<polygon points="125.40,108.90 127.60,112.70 123.20,112.70" fill="#f7931e"/>
<rect x="123.45" y="111.75" width="3.5" height="3.5" fill="#3bb54a"/>
<rect x="123.45" y="116.65" width="3.5" height="3.5" fill="#3bb54a"/>
<polygon points="130.00,118.30 130.59,119.88 132.28,119.96 130.96,121.01 131.41,122.64 130.00,121.71 128.59,122.64 129.04,121.01 127.72,119.96 129.41,119.88" fill="#0b6b57"/>
<polygon points="127.70,121.60 128.29,123.18 129.98,123.26 128.66,124.31 129.11,125.94 127.70,125.01 126.29,125.94 126.74,124.31 125.42,123.26 127.11,123.18" fill="#0b6b57"/>
<polygon points="162.50,121.30 164.70,125.10 160.30,125.10" fill="#f7931e"/>
<polygon points="164.60,122.60 165.19,124.18 166.88,124.26 165.56,125.31 166.01,126.94 164.60,126.01 163.19,126.94 163.64,125.31 162.32,124.26 164.01,124.18" fill="#0b6b57"/>
<rect x="160.45" y="123.25" width="3.5" height="3.5" fill="#3bb54a"/>
<polygon points="156.20,123.50 158.40,127.30 154.00,127.30" fill="#c5112e"/>
<circle cx="150.40" cy="124.40" r="1.55" fill="#ec008c" stroke="#12060c" stroke-width="1.05"/>
<circle cx="205.20" cy="53.60" r="1.55" fill="#ec008c" stroke="#12060c" stroke-width="1.05"/>
<polygon points="199.80,97.90 202.00,101.70 197.60,101.70" fill="#f7931e"/>
<polygon points="201.50,104.10 203.70,107.90 199.30,107.90" fill="#f7931e"/>
<rect x="203.45" y="113.25" width="3.5" height="3.5" fill="#3bb54a"/>
<polygon points="190.00,123.10 192.20,126.90 187.80,126.90" fill="#c5112e"/>
<polygon points="231.20,123.30 233.40,127.10 229.00,127.10" fill="#c5112e"/>
<circle cx="230.40" cy="123.90" r="1.55" fill="#ec008c" stroke="#12060c" stroke-width="1.05"/>
<polygon points="243.40,123.10 245.60,126.90 241.20,126.90" fill="#f7931e"/>
<rect x="239.35" y="123.15" width="3.5" height="3.5" fill="#3bb54a"/>
<circle cx="237.90" cy="125.10" r="1.5" fill="#3bb54a" stroke="#0a0a0a" stroke-width="1.0"/>
<rect x="294.60" y="23.25" width="1.6" height="102.40" fill="#000"/>
<rect x="292.40" y="124.35" width="2.4" height="1" fill="#000"/>
<rect x="293.50" y="122.43" width="1.3" height="0.8" fill="#000"/>
<rect x="293.50" y="120.41" width="1.3" height="0.8" fill="#000"/>
<rect x="293.50" y="118.38" width="1.3" height="0.8" fill="#000"/>
<rect x="293.50" y="116.36" width="1.3" height="0.8" fill="#000"/>
<rect x="292.40" y="114.24" width="2.4" height="1" fill="#000"/>
<rect x="293.50" y="112.32" width="1.3" height="0.8" fill="#000"/>
<rect x="293.50" y="110.30" width="1.3" height="0.8" fill="#000"/>
<rect x="293.50" y="108.27" width="1.3" height="0.8" fill="#000"/>
<rect x="293.50" y="106.25" width="1.3" height="0.8" fill="#000"/>
<rect x="292.40" y="104.13" width="2.4" height="1" fill="#000"/>
<rect x="293.50" y="102.21" width="1.3" height="0.8" fill="#000"/>
<rect x="293.50" y="100.19" width="1.3" height="0.8" fill="#000"/>
<rect x="293.50" y="98.16" width="1.3" height="0.8" fill="#000"/>
<rect x="293.50" y="96.14" width="1.3" height="0.8" fill="#000"/>
<rect x="292.40" y="94.02" width="2.4" height="1" fill="#000"/>
<rect x="293.50" y="92.10" width="1.3" height="0.8" fill="#000"/>
<rect x="293.50" y="90.08" width="1.3" height="0.8" fill="#000"/>
<rect x="293.50" y="88.05" width="1.3" height="0.8" fill="#000"/>
<rect x="293.50" y="86.03" width="1.3" height="0.8" fill="#000"/>
<rect x="292.40" y="83.91" width="2.4" height="1" fill="#000"/>
<rect x="293.50" y="81.99" width="1.3" height="0.8" fill="#000"/>
<rect x="293.50" y="79.97" width="1.3" height="0.8" fill="#000"/>
<rect x="293.50" y="77.94" width="1.3" height="0.8" fill="#000"/>
<rect x="293.50" y="75.92" width="1.3" height="0.8" fill="#000"/>
<rect x="292.40" y="73.80" width="2.4" height="1" fill="#000"/>
<rect x="293.50" y="71.88" width="1.3" height="0.8" fill="#000"/>
<rect x="293.50" y="69.86" width="1.3" height="0.8" fill="#000"/>
<rect x="293.50" y="67.83" width="1.3" height="0.8" fill="#000"/>
<rect x="293.50" y="65.81" width="1.3" height="0.8" fill="#000"/>
<rect x="292.40" y="63.69" width="2.4" height="1" fill="#000"/>
<rect x="293.50" y="61.77" width="1.3" height="0.8" fill="#000"/>
<rect x="293.50" y="59.75" width="1.3" height="0.8" fill="#000"/>
<rect x="293.50" y="57.72" width="1.3" height="0.8" fill="#000"/>
<rect x="293.50" y="55.70" width="1.3" height="0.8" fill="#000"/>
<rect x="292.40" y="53.58" width="2.4" height="1" fill="#000"/>
<rect x="293.50" y="51.66" width="1.3" height="0.8" fill="#000"/>
<rect x="293.50" y="49.64" width="1.3" height="0.8" fill="#000"/>
<rect x="293.50" y="47.61" width="1.3" height="0.8" fill="#000"/>
<rect x="293.50" y="45.59" width="1.3" height="0.8" fill="#000"/>
<rect x="292.40" y="43.47" width="2.4" height="1" fill="#000"/>
<rect x="293.50" y="41.55" width="1.3" height="0.8" fill="#000"/>
<rect x="293.50" y="39.53" width="1.3" height="0.8" fill="#000"/>
<rect x="293.50" y="37.50" width="1.3" height="0.8" fill="#000"/>
<rect x="293.50" y="35.48" width="1.3" height="0.8" fill="#000"/>
<rect x="292.40" y="33.36" width="2.4" height="1" fill="#000"/>
<rect x="293.50" y="31.44" width="1.3" height="0.8" fill="#000"/>
<rect x="293.50" y="29.42" width="1.3" height="0.8" fill="#000"/>
<rect x="293.50" y="27.39" width="1.3" height="0.8" fill="#000"/>
<rect x="293.50" y="25.37" width="1.3" height="0.8" fill="#000"/>
<rect x="292.40" y="23.25" width="2.4" height="1" fill="#000"/>
<text x="289.70" y="127.60" font-size="8" text-anchor="end" fill="#000" stroke="#000" stroke-width="0.15" font-family="Liberation Sans, sans-serif">0</text>
<text x="289.70" y="117.49" font-size="8" text-anchor="end" fill="#000" stroke="#000" stroke-width="0.15" font-family="Liberation Sans, sans-serif">10</text>
<text x="289.70" y="107.38" font-size="8" text-anchor="end" fill="#000" stroke="#000" stroke-width="0.15" font-family="Liberation Sans, sans-serif">20</text>
<text x="289.70" y="97.27" font-size="8" text-anchor="end" fill="#000" stroke="#000" stroke-width="0.15" font-family="Liberation Sans, sans-serif">30</text>
<text x="289.70" y="87.16" font-size="8" text-anchor="end" fill="#000" stroke="#000" stroke-width="0.15" font-family="Liberation Sans, sans-serif">40</text>
<text x="289.70" y="77.05" font-size="8" text-anchor="end" fill="#000" stroke="#000" stroke-width="0.15" font-family="Liberation Sans, sans-serif">50</text>
<text x="289.70" y="66.94" font-size="8" text-anchor="end" fill="#000" stroke="#000" stroke-width="0.15" font-family="Liberation Sans, sans-serif">60</text>
<text x="289.70" y="56.83" font-size="8" text-anchor="end" fill="#000" stroke="#000" stroke-width="0.15" font-family="Liberation Sans, sans-serif">70</text>
<text x="289.70" y="46.72" font-size="8" text-anchor="end" fill="#000" stroke="#000" stroke-width="0.15" font-family="Liberation Sans, sans-serif">80</text>
<text x="289.70" y="36.61" font-size="8" text-anchor="end" fill="#000" stroke="#000" stroke-width="0.15" font-family="Liberation Sans, sans-serif">90</text>
<text x="289.70" y="26.50" font-size="8" text-anchor="end" fill="#000" stroke="#000" stroke-width="0.15" font-family="Liberation Sans, sans-serif">100</text>
<rect x="295.00" y="124.20" width="28.70" height="1.8" fill="#000"/>
<rect x="294.90" y="124.85" width="1" height="3.2" fill="#000"/>
<rect x="299.20" y="124.85" width="0.8" height="2.2" fill="#000"/>
<rect x="301.66" y="124.85" width="0.8" height="2.2" fill="#000"/>
<rect x="303.40" y="124.85" width="0.8" height="2.2" fill="#000"/>
<rect x="304.75" y="124.85" width="0.8" height="2.2" fill="#000"/>
<rect x="305.86" y="124.85" width="0.8" height="2.2" fill="#000"/>
<rect x="306.79" y="124.85" width="0.8" height="2.2" fill="#000"/>
<rect x="307.60" y="124.85" width="0.8" height="2.2" fill="#000"/>
<rect x="308.31" y="124.85" width="0.8" height="2.2" fill="#000"/>
<rect x="308.85" y="124.85" width="1" height="3.2" fill="#000"/>
<rect x="313.15" y="124.85" width="0.8" height="2.2" fill="#000"/>
<rect x="315.61" y="124.85" width="0.8" height="2.2" fill="#000"/>
<rect x="317.35" y="124.85" width="0.8" height="2.2" fill="#000"/>
<rect x="318.70" y="124.85" width="0.8" height="2.2" fill="#000"/>
<rect x="319.81" y="124.85" width="0.8" height="2.2" fill="#000"/>
<rect x="320.74" y="124.85" width="0.8" height="2.2" fill="#000"/>
<rect x="321.55" y="124.85" width="0.8" height="2.2" fill="#000"/>
<rect x="322.26" y="124.85" width="0.8" height="2.2" fill="#000"/>
<rect x="322.80" y="124.85" width="1" height="3.2" fill="#000"/>
<line x1="295.20" y1="138.65" x2="298.60" y2="138.65" stroke="#111" stroke-width="0.85"/>
<line x1="297.80" y1="138.45" x2="297.00" y2="139.65" stroke="#555" stroke-width="0.6"/>
<ellipse cx="296.90" cy="134.85" rx="1.8" ry="1.35" fill="none" stroke="#000" stroke-width="1.0"/>
<g class="tl" transform="translate(295.50,132.85) rotate(-90)"><text x="0" y="0" font-size="3.6" fill="#000" stroke="#000" stroke-width="0.2" font-family="Liberation Sans, sans-serif">5</text></g>
<line x1="309.00" y1="138.65" x2="312.40" y2="138.65" stroke="#111" stroke-width="0.85"/>
<line x1="311.60" y1="138.45" x2="310.80" y2="139.65" stroke="#555" stroke-width="0.6"/>
<ellipse cx="310.70" cy="134.85" rx="1.8" ry="1.35" fill="none" stroke="#000" stroke-width="1.0"/>
<g class="tl" transform="translate(309.30,132.85) rotate(-90)"><text x="0" y="0" font-size="3.6" fill="#000" stroke="#000" stroke-width="0.2" font-family="Liberation Sans, sans-serif">6</text></g>
<line x1="323.10" y1="138.65" x2="326.50" y2="138.65" stroke="#111" stroke-width="0.85"/>
<line x1="325.70" y1="138.45" x2="324.90" y2="139.65" stroke="#555" stroke-width="0.6"/>
<ellipse cx="324.80" cy="134.85" rx="1.8" ry="1.35" fill="none" stroke="#000" stroke-width="1.0"/>
<g class="tl" transform="translate(323.40,132.85) rotate(-90)"><text x="0" y="0" font-size="3.6" fill="#000" stroke="#000" stroke-width="0.2" font-family="Liberation Sans, sans-serif">7</text></g>
<rect x="335.00" y="124.20" width="29.70" height="1.8" fill="#000"/>
<rect x="334.90" y="124.85" width="1" height="3.2" fill="#000"/>
<rect x="337.17" y="124.85" width="0.8" height="2.2" fill="#000"/>
<rect x="338.45" y="124.85" width="0.8" height="2.2" fill="#000"/>
<rect x="339.35" y="124.85" width="0.8" height="2.2" fill="#000"/>
<rect x="340.05" y="124.85" width="0.8" height="2.2" fill="#000"/>
<rect x="340.62" y="124.85" width="0.8" height="2.2" fill="#000"/>
<rect x="341.11" y="124.85" width="0.8" height="2.2" fill="#000"/>
<rect x="341.52" y="124.85" width="0.8" height="2.2" fill="#000"/>
<rect x="341.89" y="124.85" width="0.8" height="2.2" fill="#000"/>
<rect x="342.12" y="124.85" width="1" height="3.2" fill="#000"/>
<rect x="344.40" y="124.85" width="0.8" height="2.2" fill="#000"/>
<rect x="345.67" y="124.85" width="0.8" height="2.2" fill="#000"/>
<rect x="346.57" y="124.85" width="0.8" height="2.2" fill="#000"/>
<rect x="347.28" y="124.85" width="0.8" height="2.2" fill="#000"/>
<rect x="347.85" y="124.85" width="0.8" height="2.2" fill="#000"/>
<rect x="348.33" y="124.85" width="0.8" height="2.2" fill="#000"/>
<rect x="348.75" y="124.85" width="0.8" height="2.2" fill="#000"/>
<rect x="349.12" y="124.85" width="0.8" height="2.2" fill="#000"/>
<rect x="349.35" y="124.85" width="1" height="3.2" fill="#000"/>
<rect x="351.62" y="124.85" width="0.8" height="2.2" fill="#000"/>
<rect x="352.90" y="124.85" width="0.8" height="2.2" fill="#000"/>
<rect x="353.80" y="124.85" width="0.8" height="2.2" fill="#000"/>
<rect x="354.50" y="124.85" width="0.8" height="2.2" fill="#000"/>
<rect x="355.07" y="124.85" width="0.8" height="2.2" fill="#000"/>
<rect x="355.56" y="124.85" width="0.8" height="2.2" fill="#000"/>
<rect x="355.97" y="124.85" width="0.8" height="2.2" fill="#000"/>
<rect x="356.34" y="124.85" width="0.8" height="2.2" fill="#000"/>
<rect x="356.57" y="124.85" width="1" height="3.2" fill="#000"/>
<rect x="358.85" y="124.85" width="0.8" height="2.2" fill="#000"/>
<rect x="360.12" y="124.85" width="0.8" height="2.2" fill="#000"/>
<rect x="361.02" y="124.85" width="0.8" height="2.2" fill="#000"/>
<rect x="361.73" y="124.85" width="0.8" height="2.2" fill="#000"/>
<rect x="362.30" y="124.85" width="0.8" height="2.2" fill="#000"/>
<rect x="362.78" y="124.85" width="0.8" height="2.2" fill="#000"/>
<rect x="363.20" y="124.85" width="0.8" height="2.2" fill="#000"/>
<rect x="363.57" y="124.85" width="0.8" height="2.2" fill="#000"/>
<rect x="363.80" y="124.85" width="1" height="3.2" fill="#000"/>
<line x1="334.50" y1="138.65" x2="337.90" y2="138.65" stroke="#111" stroke-width="0.85"/>
<line x1="337.10" y1="138.45" x2="336.30" y2="139.65" stroke="#555" stroke-width="0.6"/>
<ellipse cx="336.20" cy="134.85" rx="1.8" ry="1.35" fill="none" stroke="#000" stroke-width="1.0"/>
<g class="tl" transform="translate(334.80,132.85) rotate(-90)"><text x="0" y="0" font-size="3.6" fill="#000" stroke="#000" stroke-width="0.2" font-family="Liberation Sans, sans-serif">3</text></g>
<line x1="341.70" y1="138.65" x2="345.10" y2="138.65" stroke="#111" stroke-width="0.85"/>
<line x1="344.30" y1="138.45" x2="343.50" y2="139.65" stroke="#555" stroke-width="0.6"/>
<ellipse cx="343.40" cy="134.85" rx="1.8" ry="1.35" fill="none" stroke="#000" stroke-width="1.0"/>
<g class="tl" transform="translate(342.00,132.85) rotate(-90)"><text x="0" y="0" font-size="3.6" fill="#000" stroke="#000" stroke-width="0.2" font-family="Liberation Sans, sans-serif">4</text></g>
<line x1="348.90" y1="138.65" x2="352.30" y2="138.65" stroke="#111" stroke-width="0.85"/>
<line x1="351.50" y1="138.45" x2="350.70" y2="139.65" stroke="#555" stroke-width="0.6"/>
<ellipse cx="350.60" cy="134.85" rx="1.8" ry="1.35" fill="none" stroke="#000" stroke-width="1.0"/>
<g class="tl" transform="translate(349.20,132.85) rotate(-90)"><text x="0" y="0" font-size="3.6" fill="#000" stroke="#000" stroke-width="0.2" font-family="Liberation Sans, sans-serif">5</text></g>
<line x1="356.10" y1="138.65" x2="359.50" y2="138.65" stroke="#111" stroke-width="0.85"/>
<line x1="358.70" y1="138.45" x2="357.90" y2="139.65" stroke="#555" stroke-width="0.6"/>
<ellipse cx="357.80" cy="134.85" rx="1.8" ry="1.35" fill="none" stroke="#000" stroke-width="1.0"/>
<g class="tl" transform="translate(356.40,132.85) rotate(-90)"><text x="0" y="0" font-size="3.6" fill="#000" stroke="#000" stroke-width="0.2" font-family="Liberation Sans, sans-serif">6</text></g>
<line x1="363.40" y1="138.65" x2="366.80" y2="138.65" stroke="#111" stroke-width="0.85"/>
<line x1="366.00" y1="138.45" x2="365.20" y2="139.65" stroke="#555" stroke-width="0.6"/>
<ellipse cx="365.10" cy="134.85" rx="1.8" ry="1.35" fill="none" stroke="#000" stroke-width="1.0"/>
<g class="tl" transform="translate(363.70,132.85) rotate(-90)"><text x="0" y="0" font-size="3.6" fill="#000" stroke="#000" stroke-width="0.2" font-family="Liberation Sans, sans-serif">7</text></g>
<rect x="376.00" y="124.20" width="37.10" height="1.8" fill="#000"/>
<rect x="375.90" y="124.85" width="1" height="3.2" fill="#000"/>
<rect x="378.19" y="124.85" width="0.8" height="2.2" fill="#000"/>
<rect x="379.46" y="124.85" width="0.8" height="2.2" fill="#000"/>
<rect x="380.37" y="124.85" width="0.8" height="2.2" fill="#000"/>
<rect x="381.07" y="124.85" width="0.8" height="2.2" fill="#000"/>
<rect x="381.65" y="124.85" width="0.8" height="2.2" fill="#000"/>
<rect x="382.14" y="124.85" width="0.8" height="2.2" fill="#000"/>
<rect x="382.56" y="124.85" width="0.8" height="2.2" fill="#000"/>
<rect x="382.93" y="124.85" width="0.8" height="2.2" fill="#000"/>
<rect x="383.16" y="124.85" width="1" height="3.2" fill="#000"/>
<rect x="385.45" y="124.85" width="0.8" height="2.2" fill="#000"/>
<rect x="386.72" y="124.85" width="0.8" height="2.2" fill="#000"/>
<rect x="387.63" y="124.85" width="0.8" height="2.2" fill="#000"/>
<rect x="388.33" y="124.85" width="0.8" height="2.2" fill="#000"/>
<rect x="388.91" y="124.85" width="0.8" height="2.2" fill="#000"/>
<rect x="389.40" y="124.85" width="0.8" height="2.2" fill="#000"/>
<rect x="389.82" y="124.85" width="0.8" height="2.2" fill="#000"/>
<rect x="390.19" y="124.85" width="0.8" height="2.2" fill="#000"/>
<rect x="390.42" y="124.85" width="1" height="3.2" fill="#000"/>
<rect x="392.71" y="124.85" width="0.8" height="2.2" fill="#000"/>
<rect x="393.98" y="124.85" width="0.8" height="2.2" fill="#000"/>
<rect x="394.89" y="124.85" width="0.8" height="2.2" fill="#000"/>
<rect x="395.59" y="124.85" width="0.8" height="2.2" fill="#000"/>
<rect x="396.17" y="124.85" width="0.8" height="2.2" fill="#000"/>
<rect x="396.66" y="124.85" width="0.8" height="2.2" fill="#000"/>
<rect x="397.08" y="124.85" width="0.8" height="2.2" fill="#000"/>
<rect x="397.45" y="124.85" width="0.8" height="2.2" fill="#000"/>
<rect x="397.68" y="124.85" width="1" height="3.2" fill="#000"/>
<rect x="399.97" y="124.85" width="0.8" height="2.2" fill="#000"/>
<rect x="401.24" y="124.85" width="0.8" height="2.2" fill="#000"/>
<rect x="402.15" y="124.85" width="0.8" height="2.2" fill="#000"/>
<rect x="402.85" y="124.85" width="0.8" height="2.2" fill="#000"/>
<rect x="403.43" y="124.85" width="0.8" height="2.2" fill="#000"/>
<rect x="403.92" y="124.85" width="0.8" height="2.2" fill="#000"/>
<rect x="404.34" y="124.85" width="0.8" height="2.2" fill="#000"/>
<rect x="404.71" y="124.85" width="0.8" height="2.2" fill="#000"/>
<rect x="404.94" y="124.85" width="1" height="3.2" fill="#000"/>
<rect x="407.23" y="124.85" width="0.8" height="2.2" fill="#000"/>
<rect x="408.50" y="124.85" width="0.8" height="2.2" fill="#000"/>
<rect x="409.41" y="124.85" width="0.8" height="2.2" fill="#000"/>
<rect x="410.11" y="124.85" width="0.8" height="2.2" fill="#000"/>
<rect x="410.69" y="124.85" width="0.8" height="2.2" fill="#000"/>
<rect x="411.18" y="124.85" width="0.8" height="2.2" fill="#000"/>
<rect x="411.60" y="124.85" width="0.8" height="2.2" fill="#000"/>
<rect x="411.97" y="124.85" width="0.8" height="2.2" fill="#000"/>
<rect x="412.20" y="124.85" width="1" height="3.2" fill="#000"/>
<line x1="375.50" y1="138.65" x2="378.90" y2="138.65" stroke="#111" stroke-width="0.85"/>
<line x1="378.10" y1="138.45" x2="377.30" y2="139.65" stroke="#555" stroke-width="0.6"/>
<ellipse cx="377.20" cy="134.85" rx="1.8" ry="1.35" fill="none" stroke="#000" stroke-width="1.0"/>
<g class="tl" transform="translate(375.80,132.85) rotate(-90)"><text x="0" y="0" font-size="3.6" fill="#000" stroke="#000" stroke-width="0.2" font-family="Liberation Sans, sans-serif">2</text></g>
<line x1="382.80" y1="138.65" x2="386.20" y2="138.65" stroke="#111" stroke-width="0.85"/>
<line x1="385.40" y1="138.45" x2="384.60" y2="139.65" stroke="#555" stroke-width="0.6"/>
<ellipse cx="384.50" cy="134.85" rx="1.8" ry="1.35" fill="none" stroke="#000" stroke-width="1.0"/>
<g class="tl" transform="translate(383.10,132.85) rotate(-90)"><text x="0" y="0" font-size="3.6" fill="#000" stroke="#000" stroke-width="0.2" font-family="Liberation Sans, sans-serif">3</text></g>
<line x1="390.00" y1="138.65" x2="393.40" y2="138.65" stroke="#111" stroke-width="0.85"/>
<line x1="392.60" y1="138.45" x2="391.80" y2="139.65" stroke="#555" stroke-width="0.6"/>
<ellipse cx="391.70" cy="134.85" rx="1.8" ry="1.35" fill="none" stroke="#000" stroke-width="1.0"/>
<g class="tl" transform="translate(390.30,132.85) rotate(-90)"><text x="0" y="0" font-size="3.6" fill="#000" stroke="#000" stroke-width="0.2" font-family="Liberation Sans, sans-serif">4</text></g>
<line x1="397.30" y1="138.65" x2="400.70" y2="138.65" stroke="#111" stroke-width="0.85"/>
<line x1="399.90" y1="138.45" x2="399.10" y2="139.65" stroke="#555" stroke-width="0.6"/>
<ellipse cx="399.00" cy="134.85" rx="1.8" ry="1.35" fill="none" stroke="#000" stroke-width="1.0"/>
<g class="tl" transform="translate(397.60,132.85) rotate(-90)"><text x="0" y="0" font-size="3.6" fill="#000" stroke="#000" stroke-width="0.2" font-family="Liberation Sans, sans-serif">5</text></g>
<line x1="404.50" y1="138.65" x2="407.90" y2="138.65" stroke="#111" stroke-width="0.85"/>
<line x1="407.10" y1="138.45" x2="406.30" y2="139.65" stroke="#555" stroke-width="0.6"/>
<ellipse cx="406.20" cy="134.85" rx="1.8" ry="1.35" fill="none" stroke="#000" stroke-width="1.0"/>
<g class="tl" transform="translate(404.80,132.85) rotate(-90)"><text x="0" y="0" font-size="3.6" fill="#000" stroke="#000" stroke-width="0.2" font-family="Liberation Sans, sans-serif">6</text></g>
<line x1="411.80" y1="138.65" x2="415.20" y2="138.65" stroke="#111" stroke-width="0.85"/>
<line x1="414.40" y1="138.45" x2="413.60" y2="139.65" stroke="#555" stroke-width="0.6"/>
<ellipse cx="413.50" cy="134.85" rx="1.8" ry="1.35" fill="none" stroke="#000" stroke-width="1.0"/>
<g class="tl" transform="translate(412.10,132.85) rotate(-90)"><text x="0" y="0" font-size="3.6" fill="#000" stroke="#000" stroke-width="0.2" font-family="Liberation Sans, sans-serif">7</text></g>
<rect x="423.80" y="124.20" width="30.90" height="1.8" fill="#000"/>
<rect x="423.70" y="124.85" width="1" height="3.2" fill="#000"/>
<rect x="425.61" y="124.85" width="0.8" height="2.2" fill="#000"/>
<rect x="426.67" y="124.85" width="0.8" height="2.2" fill="#000"/>
<rect x="427.42" y="124.85" width="0.8" height="2.2" fill="#000"/>
<rect x="428.01" y="124.85" width="0.8" height="2.2" fill="#000"/>
<rect x="428.48" y="124.85" width="0.8" height="2.2" fill="#000"/>
<rect x="428.89" y="124.85" width="0.8" height="2.2" fill="#000"/>
<rect x="429.24" y="124.85" width="0.8" height="2.2" fill="#000"/>
<rect x="429.54" y="124.85" width="0.8" height="2.2" fill="#000"/>
<rect x="429.72" y="124.85" width="1" height="3.2" fill="#000"/>
<rect x="431.63" y="124.85" width="0.8" height="2.2" fill="#000"/>
<rect x="432.69" y="124.85" width="0.8" height="2.2" fill="#000"/>
<rect x="433.44" y="124.85" width="0.8" height="2.2" fill="#000"/>
<rect x="434.03" y="124.85" width="0.8" height="2.2" fill="#000"/>
<rect x="434.50" y="124.85" width="0.8" height="2.2" fill="#000"/>
<rect x="434.91" y="124.85" width="0.8" height="2.2" fill="#000"/>
<rect x="435.26" y="124.85" width="0.8" height="2.2" fill="#000"/>
<rect x="435.56" y="124.85" width="0.8" height="2.2" fill="#000"/>
<rect x="435.74" y="124.85" width="1" height="3.2" fill="#000"/>
<rect x="437.65" y="124.85" width="0.8" height="2.2" fill="#000"/>
<rect x="438.71" y="124.85" width="0.8" height="2.2" fill="#000"/>
<rect x="439.46" y="124.85" width="0.8" height="2.2" fill="#000"/>
<rect x="440.05" y="124.85" width="0.8" height="2.2" fill="#000"/>
<rect x="440.52" y="124.85" width="0.8" height="2.2" fill="#000"/>
<rect x="440.93" y="124.85" width="0.8" height="2.2" fill="#000"/>
<rect x="441.28" y="124.85" width="0.8" height="2.2" fill="#000"/>
<rect x="441.58" y="124.85" width="0.8" height="2.2" fill="#000"/>
<rect x="441.76" y="124.85" width="1" height="3.2" fill="#000"/>
<rect x="443.67" y="124.85" width="0.8" height="2.2" fill="#000"/>
<rect x="444.73" y="124.85" width="0.8" height="2.2" fill="#000"/>
<rect x="445.48" y="124.85" width="0.8" height="2.2" fill="#000"/>
<rect x="446.07" y="124.85" width="0.8" height="2.2" fill="#000"/>
<rect x="446.54" y="124.85" width="0.8" height="2.2" fill="#000"/>
<rect x="446.95" y="124.85" width="0.8" height="2.2" fill="#000"/>
<rect x="447.30" y="124.85" width="0.8" height="2.2" fill="#000"/>
<rect x="447.60" y="124.85" width="0.8" height="2.2" fill="#000"/>
<rect x="447.78" y="124.85" width="1" height="3.2" fill="#000"/>
<rect x="449.69" y="124.85" width="0.8" height="2.2" fill="#000"/>
<rect x="450.75" y="124.85" width="0.8" height="2.2" fill="#000"/>
<rect x="451.50" y="124.85" width="0.8" height="2.2" fill="#000"/>
<rect x="452.09" y="124.85" width="0.8" height="2.2" fill="#000"/>
<rect x="452.56" y="124.85" width="0.8" height="2.2" fill="#000"/>
<rect x="452.97" y="124.85" width="0.8" height="2.2" fill="#000"/>
<rect x="453.32" y="124.85" width="0.8" height="2.2" fill="#000"/>
<rect x="453.62" y="124.85" width="0.8" height="2.2" fill="#000"/>
<rect x="453.80" y="124.85" width="1" height="3.2" fill="#000"/>
<line x1="422.30" y1="138.65" x2="425.70" y2="138.65" stroke="#111" stroke-width="0.85"/>
<line x1="424.90" y1="138.45" x2="424.10" y2="139.65" stroke="#555" stroke-width="0.6"/>
<ellipse cx="424.00" cy="134.85" rx="1.8" ry="1.35" fill="none" stroke="#000" stroke-width="1.0"/>
<g class="tl" transform="translate(422.60,132.85) rotate(-90)"><text x="0" y="0" font-size="3.6" fill="#000" stroke="#000" stroke-width="0.2" font-family="Liberation Sans, sans-serif">2</text></g>
<line x1="428.50" y1="138.65" x2="431.90" y2="138.65" stroke="#111" stroke-width="0.85"/>
<line x1="431.10" y1="138.45" x2="430.30" y2="139.65" stroke="#555" stroke-width="0.6"/>
<ellipse cx="430.20" cy="134.85" rx="1.8" ry="1.35" fill="none" stroke="#000" stroke-width="1.0"/>
<g class="tl" transform="translate(428.80,132.85) rotate(-90)"><text x="0" y="0" font-size="3.6" fill="#000" stroke="#000" stroke-width="0.2" font-family="Liberation Sans, sans-serif">3</text></g>
<line x1="434.80" y1="138.65" x2="438.20" y2="138.65" stroke="#111" stroke-width="0.85"/>
<line x1="437.40" y1="138.45" x2="436.60" y2="139.65" stroke="#555" stroke-width="0.6"/>
<ellipse cx="436.50" cy="134.85" rx="1.8" ry="1.35" fill="none" stroke="#000" stroke-width="1.0"/>
<g class="tl" transform="translate(435.10,132.85) rotate(-90)"><text x="0" y="0" font-size="3.6" fill="#000" stroke="#000" stroke-width="0.2" font-family="Liberation Sans, sans-serif">4</text></g>
<line x1="441.00" y1="138.65" x2="444.40" y2="138.65" stroke="#111" stroke-width="0.85"/>
<line x1="443.60" y1="138.45" x2="442.80" y2="139.65" stroke="#555" stroke-width="0.6"/>
<ellipse cx="442.70" cy="134.85" rx="1.8" ry="1.35" fill="none" stroke="#000" stroke-width="1.0"/>
<g class="tl" transform="translate(441.30,132.85) rotate(-90)"><text x="0" y="0" font-size="3.6" fill="#000" stroke="#000" stroke-width="0.2" font-family="Liberation Sans, sans-serif">5</text></g>
<line x1="447.30" y1="138.65" x2="450.70" y2="138.65" stroke="#111" stroke-width="0.85"/>
<line x1="449.90" y1="138.45" x2="449.10" y2="139.65" stroke="#555" stroke-width="0.6"/>
<ellipse cx="449.00" cy="134.85" rx="1.8" ry="1.35" fill="none" stroke="#000" stroke-width="1.0"/>
<g class="tl" transform="translate(447.60,132.85) rotate(-90)"><text x="0" y="0" font-size="3.6" fill="#000" stroke="#000" stroke-width="0.2" font-family="Liberation Sans, sans-serif">6</text></g>
<line x1="453.50" y1="138.65" x2="456.90" y2="138.65" stroke="#111" stroke-width="0.85"/>
<line x1="456.10" y1="138.45" x2="455.30" y2="139.65" stroke="#555" stroke-width="0.6"/>
<ellipse cx="455.20" cy="134.85" rx="1.8" ry="1.35" fill="none" stroke="#000" stroke-width="1.0"/>
<g class="tl" transform="translate(453.80,132.85) rotate(-90)"><text x="0" y="0" font-size="3.6" fill="#000" stroke="#000" stroke-width="0.2" font-family="Liberation Sans, sans-serif">7</text></g>
<rect x="465.50" y="124.20" width="32.50" height="1.8" fill="#000"/>
<rect x="465.40" y="124.85" width="1" height="3.2" fill="#000"/>
<rect x="467.41" y="124.85" width="0.8" height="2.2" fill="#000"/>
<rect x="468.52" y="124.85" width="0.8" height="2.2" fill="#000"/>
<rect x="469.32" y="124.85" width="0.8" height="2.2" fill="#000"/>
<rect x="469.93" y="124.85" width="0.8" height="2.2" fill="#000"/>
<rect x="470.43" y="124.85" width="0.8" height="2.2" fill="#000"/>
<rect x="470.86" y="124.85" width="0.8" height="2.2" fill="#000"/>
<rect x="471.23" y="124.85" width="0.8" height="2.2" fill="#000"/>
<rect x="471.55" y="124.85" width="0.8" height="2.2" fill="#000"/>
<rect x="471.74" y="124.85" width="1" height="3.2" fill="#000"/>
<rect x="473.75" y="124.85" width="0.8" height="2.2" fill="#000"/>
<rect x="474.86" y="124.85" width="0.8" height="2.2" fill="#000"/>
<rect x="475.66" y="124.85" width="0.8" height="2.2" fill="#000"/>
<rect x="476.27" y="124.85" width="0.8" height="2.2" fill="#000"/>
<rect x="476.77" y="124.85" width="0.8" height="2.2" fill="#000"/>
<rect x="477.20" y="124.85" width="0.8" height="2.2" fill="#000"/>
<rect x="477.57" y="124.85" width="0.8" height="2.2" fill="#000"/>
<rect x="477.89" y="124.85" width="0.8" height="2.2" fill="#000"/>
<rect x="478.08" y="124.85" width="1" height="3.2" fill="#000"/>
<rect x="480.09" y="124.85" width="0.8" height="2.2" fill="#000"/>
<rect x="481.20" y="124.85" width="0.8" height="2.2" fill="#000"/>
<rect x="482.00" y="124.85" width="0.8" height="2.2" fill="#000"/>
<rect x="482.61" y="124.85" width="0.8" height="2.2" fill="#000"/>
<rect x="483.11" y="124.85" width="0.8" height="2.2" fill="#000"/>
<rect x="483.54" y="124.85" width="0.8" height="2.2" fill="#000"/>
<rect x="483.91" y="124.85" width="0.8" height="2.2" fill="#000"/>
<rect x="484.23" y="124.85" width="0.8" height="2.2" fill="#000"/>
<rect x="484.42" y="124.85" width="1" height="3.2" fill="#000"/>
<rect x="486.43" y="124.85" width="0.8" height="2.2" fill="#000"/>
<rect x="487.54" y="124.85" width="0.8" height="2.2" fill="#000"/>
<rect x="488.34" y="124.85" width="0.8" height="2.2" fill="#000"/>
<rect x="488.95" y="124.85" width="0.8" height="2.2" fill="#000"/>
<rect x="489.45" y="124.85" width="0.8" height="2.2" fill="#000"/>
<rect x="489.88" y="124.85" width="0.8" height="2.2" fill="#000"/>
<rect x="490.25" y="124.85" width="0.8" height="2.2" fill="#000"/>
<rect x="490.57" y="124.85" width="0.8" height="2.2" fill="#000"/>
<rect x="490.76" y="124.85" width="1" height="3.2" fill="#000"/>
<rect x="492.77" y="124.85" width="0.8" height="2.2" fill="#000"/>
<rect x="493.88" y="124.85" width="0.8" height="2.2" fill="#000"/>
<rect x="494.68" y="124.85" width="0.8" height="2.2" fill="#000"/>
<rect x="495.29" y="124.85" width="0.8" height="2.2" fill="#000"/>
<rect x="495.79" y="124.85" width="0.8" height="2.2" fill="#000"/>
<rect x="496.22" y="124.85" width="0.8" height="2.2" fill="#000"/>
<rect x="496.59" y="124.85" width="0.8" height="2.2" fill="#000"/>
<rect x="496.91" y="124.85" width="0.8" height="2.2" fill="#000"/>
<rect x="497.10" y="124.85" width="1" height="3.2" fill="#000"/>
<line x1="464.70" y1="138.65" x2="468.10" y2="138.65" stroke="#111" stroke-width="0.85"/>
<line x1="467.30" y1="138.45" x2="466.50" y2="139.65" stroke="#555" stroke-width="0.6"/>
<ellipse cx="466.40" cy="134.85" rx="1.8" ry="1.35" fill="none" stroke="#000" stroke-width="1.0"/>
<g class="tl" transform="translate(465.00,132.85) rotate(-90)"><text x="0" y="0" font-size="3.6" fill="#000" stroke="#000" stroke-width="0.2" font-family="Liberation Sans, sans-serif">2</text></g>
<line x1="471.20" y1="138.65" x2="474.60" y2="138.65" stroke="#111" stroke-width="0.85"/>
<line x1="473.80" y1="138.45" x2="473.00" y2="139.65" stroke="#555" stroke-width="0.6"/>
<ellipse cx="472.90" cy="134.85" rx="1.8" ry="1.35" fill="none" stroke="#000" stroke-width="1.0"/>
<g class="tl" transform="translate(471.50,132.85) rotate(-90)"><text x="0" y="0" font-size="3.6" fill="#000" stroke="#000" stroke-width="0.2" font-family="Liberation Sans, sans-serif">3</text></g>
<line x1="477.60" y1="138.65" x2="481.00" y2="138.65" stroke="#111" stroke-width="0.85"/>
<line x1="480.20" y1="138.45" x2="479.40" y2="139.65" stroke="#555" stroke-width="0.6"/>
<ellipse cx="479.30" cy="134.85" rx="1.8" ry="1.35" fill="none" stroke="#000" stroke-width="1.0"/>
<g class="tl" transform="translate(477.90,132.85) rotate(-90)"><text x="0" y="0" font-size="3.6" fill="#000" stroke="#000" stroke-width="0.2" font-family="Liberation Sans, sans-serif">4</text></g>
<line x1="484.10" y1="138.65" x2="487.50" y2="138.65" stroke="#111" stroke-width="0.85"/>
<line x1="486.70" y1="138.45" x2="485.90" y2="139.65" stroke="#555" stroke-width="0.6"/>
<ellipse cx="485.80" cy="134.85" rx="1.8" ry="1.35" fill="none" stroke="#000" stroke-width="1.0"/>
<g class="tl" transform="translate(484.40,132.85) rotate(-90)"><text x="0" y="0" font-size="3.6" fill="#000" stroke="#000" stroke-width="0.2" font-family="Liberation Sans, sans-serif">5</text></g>
<line x1="490.60" y1="138.65" x2="494.00" y2="138.65" stroke="#111" stroke-width="0.85"/>
<line x1="493.20" y1="138.45" x2="492.40" y2="139.65" stroke="#555" stroke-width="0.6"/>
<ellipse cx="492.30" cy="134.85" rx="1.8" ry="1.35" fill="none" stroke="#000" stroke-width="1.0"/>
<g class="tl" transform="translate(490.90,132.85) rotate(-90)"><text x="0" y="0" font-size="3.6" fill="#000" stroke="#000" stroke-width="0.2" font-family="Liberation Sans, sans-serif">6</text></g>
<line x1="497.00" y1="138.65" x2="500.40" y2="138.65" stroke="#111" stroke-width="0.85"/>
<line x1="499.60" y1="138.45" x2="498.80" y2="139.65" stroke="#555" stroke-width="0.6"/>
<ellipse cx="498.70" cy="134.85" rx="1.8" ry="1.35" fill="none" stroke="#000" stroke-width="1.0"/>
<g class="tl" transform="translate(497.30,132.85) rotate(-90)"><text x="0" y="0" font-size="3.6" fill="#000" stroke="#000" stroke-width="0.2" font-family="Liberation Sans, sans-serif">7</text></g>
<text x="299.10" y="151.00" font-size="8.3" textLength="20.80" lengthAdjust="spacingAndGlyphs" fill="#000" stroke="#000" stroke-width="0.34" font-family="Liberation Sans, sans-serif">Unsorted</text>
<text x="331.50" y="151.00" font-size="8.3" textLength="11.40" lengthAdjust="spacingAndGlyphs" fill="#000" stroke="#000" stroke-width="0.34" font-family="Liberation Sans, sans-serif">CD34</text>
<line x1="343.50" y1="146.60" x2="345.40" y2="146.60" stroke="#111" stroke-width="0.55"/>
<line x1="344.45" y1="145.60" x2="344.45" y2="147.60" stroke="#111" stroke-width="0.7"/>
<line x1="345.90" y1="151.50" x2="348.50" y2="145.10" stroke="#111" stroke-width="0.8"/>
<text x="349.20" y="151.00" font-size="8.3" textLength="15.10" lengthAdjust="spacingAndGlyphs" fill="#000" stroke="#000" stroke-width="0.34" font-family="Liberation Sans, sans-serif">CD200</text>
<text x="364.60" y="147.70" font-size="3.2" textLength="2.70" lengthAdjust="spacingAndGlyphs" fill="#000" stroke="#000" stroke-width="0.12" font-family="Liberation Sans, sans-serif">hi</text>
<text x="377.10" y="151.00" font-size="8.3" textLength="11.40" lengthAdjust="spacingAndGlyphs" fill="#000" stroke="#000" stroke-width="0.34" font-family="Liberation Sans, sans-serif">CD34</text>
<line x1="389.10" y1="146.60" x2="391.00" y2="146.60" stroke="#111" stroke-width="0.55"/>
<line x1="390.05" y1="145.60" x2="390.05" y2="147.60" stroke="#111" stroke-width="0.7"/>
<line x1="391.50" y1="151.50" x2="394.10" y2="145.10" stroke="#111" stroke-width="0.8"/>
<text x="394.80" y="151.00" font-size="8.3" textLength="15.10" lengthAdjust="spacingAndGlyphs" fill="#000" stroke="#000" stroke-width="0.34" font-family="Liberation Sans, sans-serif">CD200</text>
<line x1="410.30" y1="146.60" x2="412.00" y2="146.60" stroke="#111" stroke-width="0.55"/>
<text x="421.70" y="151.00" font-size="8.3" textLength="11.40" lengthAdjust="spacingAndGlyphs" fill="#000" stroke="#000" stroke-width="0.34" font-family="Liberation Sans, sans-serif">CD34</text>
<line x1="433.70" y1="146.60" x2="435.60" y2="146.60" stroke="#111" stroke-width="0.55"/>
<line x1="436.10" y1="151.50" x2="438.70" y2="145.10" stroke="#111" stroke-width="0.8"/>
<text x="439.40" y="151.00" font-size="8.3" textLength="15.10" lengthAdjust="spacingAndGlyphs" fill="#000" stroke="#000" stroke-width="0.34" font-family="Liberation Sans, sans-serif">CD200</text>
<text x="454.80" y="147.70" font-size="3.2" textLength="2.70" lengthAdjust="spacingAndGlyphs" fill="#000" stroke="#000" stroke-width="0.12" font-family="Liberation Sans, sans-serif">hi</text>
<text x="464.30" y="151.00" font-size="8.3" textLength="11.40" lengthAdjust="spacingAndGlyphs" fill="#000" stroke="#000" stroke-width="0.34" font-family="Liberation Sans, sans-serif">CD34</text>
<line x1="476.30" y1="146.60" x2="478.20" y2="146.60" stroke="#111" stroke-width="0.55"/>
<line x1="478.70" y1="151.50" x2="481.30" y2="145.10" stroke="#111" stroke-width="0.8"/>
<text x="482.00" y="151.00" font-size="8.3" textLength="15.10" lengthAdjust="spacingAndGlyphs" fill="#000" stroke="#000" stroke-width="0.34" font-family="Liberation Sans, sans-serif">CD200</text>
<line x1="497.50" y1="146.60" x2="499.20" y2="146.60" stroke="#111" stroke-width="0.55"/>
<circle cx="313.60" cy="33.60" r="1.8" fill="#4b1170"/>
<circle cx="313.60" cy="32.70" r="1.5" fill="#8a8ad2" stroke="#101018" stroke-width="1.25"/>
<circle cx="313.60" cy="79.00" r="1.85" fill="#0f4f92"/>
<circle cx="309.40" cy="111.60" r="1.6" fill="#1670a8" stroke="#0a1822" stroke-width="0.9"/>
<polygon points="311.65,122.20 310.62,123.98 308.58,123.98 307.55,122.20 308.58,120.42 310.62,120.42" fill="#0c0c10"/>
<circle cx="343.80" cy="29.80" r="1.5" fill="#8a8ad2" stroke="#101018" stroke-width="1.25"/>
<circle cx="347.80" cy="57.70" r="1.85" fill="#0f4f92"/>
<circle cx="341.60" cy="72.60" r="1.85" fill="#0f4f92"/>
<circle cx="361.90" cy="33.50" r="1.8" fill="#4b1170"/>
<circle cx="336.00" cy="118.50" r="1.6" fill="#1670a8" stroke="#0a1822" stroke-width="0.9"/>
<circle cx="348.70" cy="118.50" r="1.6" fill="#1670a8" stroke="#0a1822" stroke-width="0.9"/>
<polygon points="354.45,120.10 353.42,121.88 351.38,121.88 350.35,120.10 351.38,118.32 353.42,118.32" fill="#0c0c10"/>
<polygon points="358.95,122.90 357.92,124.68 355.88,124.68 354.85,122.90 355.88,121.12 357.92,121.12" fill="#0c0c10"/>
<circle cx="407.30" cy="30.00" r="1.5" fill="#8a8ad2" stroke="#101018" stroke-width="1.25"/>
<circle cx="395.40" cy="103.10" r="1.8" fill="#4b1170"/>
<circle cx="384.00" cy="119.90" r="1.6" fill="#1670a8" stroke="#0a1822" stroke-width="0.9"/>
<polygon points="402.55,119.90 401.52,121.68 399.48,121.68 398.45,119.90 399.48,118.12 401.52,118.12" fill="#0c0c10"/>
<circle cx="444.20" cy="37.80" r="1.5" fill="#8a8ad2" stroke="#101018" stroke-width="1.25"/>
<circle cx="448.20" cy="38.60" r="1.85" fill="#0f4f92"/>
<circle cx="451.00" cy="33.40" r="1.8" fill="#4b1170"/>
<circle cx="449.50" cy="35.10" r="1.8" fill="#4b1170"/>
<circle cx="448.00" cy="56.00" r="1.85" fill="#0f4f92"/>
<circle cx="430.20" cy="120.40" r="1.6" fill="#1670a8" stroke="#0a1822" stroke-width="0.9"/>
<polygon points="443.55,115.90 442.52,117.68 440.48,117.68 439.45,115.90 440.48,114.12 442.52,114.12" fill="#0c0c10"/>
<circle cx="483.10" cy="30.40" r="1.85" fill="#0f4f92"/>
<circle cx="477.60" cy="36.10" r="1.85" fill="#0f4f92"/>
<circle cx="486.60" cy="36.80" r="1.5" fill="#8a8ad2" stroke="#101018" stroke-width="1.25"/>
<circle cx="491.40" cy="77.10" r="1.8" fill="#4b1170"/>
<circle cx="472.40" cy="120.20" r="1.6" fill="#1670a8" stroke="#0a1822" stroke-width="0.9"/>
<polygon points="487.95,117.30 486.92,119.08 484.88,119.08 483.85,117.30 484.88,115.52 486.92,115.52" fill="#0c0c10"/>
<circle cx="484.50" cy="119.90" r="1.6" fill="#1670a8" stroke="#0a1822" stroke-width="0.9"/>
<rect x="60.80" y="179.90" width="1.6" height="102.40" fill="#000"/>
<rect x="58.60" y="281.00" width="2.4" height="1" fill="#000"/>
<rect x="59.70" y="279.08" width="1.3" height="0.8" fill="#000"/>
<rect x="59.70" y="277.06" width="1.3" height="0.8" fill="#000"/>
<rect x="59.70" y="275.03" width="1.3" height="0.8" fill="#000"/>
<rect x="59.70" y="273.01" width="1.3" height="0.8" fill="#000"/>
<rect x="58.60" y="270.89" width="2.4" height="1" fill="#000"/>
<rect x="59.70" y="268.97" width="1.3" height="0.8" fill="#000"/>
<rect x="59.70" y="266.95" width="1.3" height="0.8" fill="#000"/>
<rect x="59.70" y="264.92" width="1.3" height="0.8" fill="#000"/>
<rect x="59.70" y="262.90" width="1.3" height="0.8" fill="#000"/>
<rect x="58.60" y="260.78" width="2.4" height="1" fill="#000"/>
<rect x="59.70" y="258.86" width="1.3" height="0.8" fill="#000"/>
<rect x="59.70" y="256.84" width="1.3" height="0.8" fill="#000"/>
<rect x="59.70" y="254.81" width="1.3" height="0.8" fill="#000"/>
<rect x="59.70" y="252.79" width="1.3" height="0.8" fill="#000"/>
<rect x="58.60" y="250.67" width="2.4" height="1" fill="#000"/>
<rect x="59.70" y="248.75" width="1.3" height="0.8" fill="#000"/>
<rect x="59.70" y="246.73" width="1.3" height="0.8" fill="#000"/>
<rect x="59.70" y="244.70" width="1.3" height="0.8" fill="#000"/>
<rect x="59.70" y="242.68" width="1.3" height="0.8" fill="#000"/>
<rect x="58.60" y="240.56" width="2.4" height="1" fill="#000"/>
<rect x="59.70" y="238.64" width="1.3" height="0.8" fill="#000"/>
<rect x="59.70" y="236.62" width="1.3" height="0.8" fill="#000"/>
<rect x="59.70" y="234.59" width="1.3" height="0.8" fill="#000"/>
<rect x="59.70" y="232.57" width="1.3" height="0.8" fill="#000"/>
<rect x="58.60" y="230.45" width="2.4" height="1" fill="#000"/>
<rect x="59.70" y="228.53" width="1.3" height="0.8" fill="#000"/>
<rect x="59.70" y="226.51" width="1.3" height="0.8" fill="#000"/>
<rect x="59.70" y="224.48" width="1.3" height="0.8" fill="#000"/>
<rect x="59.70" y="222.46" width="1.3" height="0.8" fill="#000"/>
<rect x="58.60" y="220.34" width="2.4" height="1" fill="#000"/>
<rect x="59.70" y="218.42" width="1.3" height="0.8" fill="#000"/>
<rect x="59.70" y="216.40" width="1.3" height="0.8" fill="#000"/>
<rect x="59.70" y="214.37" width="1.3" height="0.8" fill="#000"/>
<rect x="59.70" y="212.35" width="1.3" height="0.8" fill="#000"/>
<rect x="58.60" y="210.23" width="2.4" height="1" fill="#000"/>
<rect x="59.70" y="208.31" width="1.3" height="0.8" fill="#000"/>
<rect x="59.70" y="206.29" width="1.3" height="0.8" fill="#000"/>
<rect x="59.70" y="204.26" width="1.3" height="0.8" fill="#000"/>
<rect x="59.70" y="202.24" width="1.3" height="0.8" fill="#000"/>
<rect x="58.60" y="200.12" width="2.4" height="1" fill="#000"/>
<rect x="59.70" y="198.20" width="1.3" height="0.8" fill="#000"/>
<rect x="59.70" y="196.18" width="1.3" height="0.8" fill="#000"/>
<rect x="59.70" y="194.15" width="1.3" height="0.8" fill="#000"/>
<rect x="59.70" y="192.13" width="1.3" height="0.8" fill="#000"/>
<rect x="58.60" y="190.01" width="2.4" height="1" fill="#000"/>
<rect x="59.70" y="188.09" width="1.3" height="0.8" fill="#000"/>
<rect x="59.70" y="186.07" width="1.3" height="0.8" fill="#000"/>
<rect x="59.70" y="184.04" width="1.3" height="0.8" fill="#000"/>
<rect x="59.70" y="182.02" width="1.3" height="0.8" fill="#000"/>
<rect x="58.60" y="179.90" width="2.4" height="1" fill="#000"/>
<text x="55.90" y="284.25" font-size="8" text-anchor="end" fill="#000" stroke="#000" stroke-width="0.15" font-family="Liberation Sans, sans-serif">0</text>
<text x="55.90" y="274.14" font-size="8" text-anchor="end" fill="#000" stroke="#000" stroke-width="0.15" font-family="Liberation Sans, sans-serif">10</text>
<text x="55.90" y="264.03" font-size="8" text-anchor="end" fill="#000" stroke="#000" stroke-width="0.15" font-family="Liberation Sans, sans-serif">20</text>
<text x="55.90" y="253.92" font-size="8" text-anchor="end" fill="#000" stroke="#000" stroke-width="0.15" font-family="Liberation Sans, sans-serif">30</text>
<text x="55.90" y="243.81" font-size="8" text-anchor="end" fill="#000" stroke="#000" stroke-width="0.15" font-family="Liberation Sans, sans-serif">40</text>
<text x="55.90" y="233.70" font-size="8" text-anchor="end" fill="#000" stroke="#000" stroke-width="0.15" font-family="Liberation Sans, sans-serif">50</text>
<text x="55.90" y="223.59" font-size="8" text-anchor="end" fill="#000" stroke="#000" stroke-width="0.15" font-family="Liberation Sans, sans-serif">60</text>
<text x="55.90" y="213.48" font-size="8" text-anchor="end" fill="#000" stroke="#000" stroke-width="0.15" font-family="Liberation Sans, sans-serif">70</text>
<text x="55.90" y="203.37" font-size="8" text-anchor="end" fill="#000" stroke="#000" stroke-width="0.15" font-family="Liberation Sans, sans-serif">80</text>
<text x="55.90" y="193.26" font-size="8" text-anchor="end" fill="#000" stroke="#000" stroke-width="0.15" font-family="Liberation Sans, sans-serif">90</text>
<text x="55.90" y="183.15" font-size="8" text-anchor="end" fill="#000" stroke="#000" stroke-width="0.15" font-family="Liberation Sans, sans-serif">100</text>
<rect x="61.20" y="280.85" width="28.90" height="1.8" fill="#000"/>
<rect x="61.10" y="281.50" width="1" height="3.2" fill="#000"/>
<rect x="64.02" y="281.50" width="0.8" height="2.2" fill="#000"/>
<rect x="65.67" y="281.50" width="0.8" height="2.2" fill="#000"/>
<rect x="66.84" y="281.50" width="0.8" height="2.2" fill="#000"/>
<rect x="67.75" y="281.50" width="0.8" height="2.2" fill="#000"/>
<rect x="68.49" y="281.50" width="0.8" height="2.2" fill="#000"/>
<rect x="69.12" y="281.50" width="0.8" height="2.2" fill="#000"/>
<rect x="69.66" y="281.50" width="0.8" height="2.2" fill="#000"/>
<rect x="70.14" y="281.50" width="0.8" height="2.2" fill="#000"/>
<rect x="70.47" y="281.50" width="1" height="3.2" fill="#000"/>
<rect x="73.39" y="281.50" width="0.8" height="2.2" fill="#000"/>
<rect x="75.04" y="281.50" width="0.8" height="2.2" fill="#000"/>
<rect x="76.21" y="281.50" width="0.8" height="2.2" fill="#000"/>
<rect x="77.11" y="281.50" width="0.8" height="2.2" fill="#000"/>
<rect x="77.86" y="281.50" width="0.8" height="2.2" fill="#000"/>
<rect x="78.48" y="281.50" width="0.8" height="2.2" fill="#000"/>
<rect x="79.03" y="281.50" width="0.8" height="2.2" fill="#000"/>
<rect x="79.50" y="281.50" width="0.8" height="2.2" fill="#000"/>
<rect x="79.83" y="281.50" width="1" height="3.2" fill="#000"/>
<rect x="82.75" y="281.50" width="0.8" height="2.2" fill="#000"/>
<rect x="84.40" y="281.50" width="0.8" height="2.2" fill="#000"/>
<rect x="85.57" y="281.50" width="0.8" height="2.2" fill="#000"/>
<rect x="86.48" y="281.50" width="0.8" height="2.2" fill="#000"/>
<rect x="87.22" y="281.50" width="0.8" height="2.2" fill="#000"/>
<rect x="87.85" y="281.50" width="0.8" height="2.2" fill="#000"/>
<rect x="88.39" y="281.50" width="0.8" height="2.2" fill="#000"/>
<rect x="88.87" y="281.50" width="0.8" height="2.2" fill="#000"/>
<rect x="89.20" y="281.50" width="1" height="3.2" fill="#000"/>
<line x1="61.60" y1="295.30" x2="65.00" y2="295.30" stroke="#111" stroke-width="0.85"/>
<line x1="64.20" y1="295.10" x2="63.40" y2="296.30" stroke="#555" stroke-width="0.6"/>
<ellipse cx="63.30" cy="291.50" rx="1.8" ry="1.35" fill="none" stroke="#000" stroke-width="1.0"/>
<g class="tl" transform="translate(61.90,289.50) rotate(-90)"><text x="0" y="0" font-size="3.6" fill="#000" stroke="#000" stroke-width="0.2" font-family="Liberation Sans, sans-serif">4</text></g>
<line x1="70.70" y1="295.30" x2="74.10" y2="295.30" stroke="#111" stroke-width="0.85"/>
<line x1="73.30" y1="295.10" x2="72.50" y2="296.30" stroke="#555" stroke-width="0.6"/>
<ellipse cx="72.40" cy="291.50" rx="1.8" ry="1.35" fill="none" stroke="#000" stroke-width="1.0"/>
<g class="tl" transform="translate(71.00,289.50) rotate(-90)"><text x="0" y="0" font-size="3.6" fill="#000" stroke="#000" stroke-width="0.2" font-family="Liberation Sans, sans-serif">5</text></g>
<line x1="79.80" y1="295.30" x2="83.20" y2="295.30" stroke="#111" stroke-width="0.85"/>
<line x1="82.40" y1="295.10" x2="81.60" y2="296.30" stroke="#555" stroke-width="0.6"/>
<ellipse cx="81.50" cy="291.50" rx="1.8" ry="1.35" fill="none" stroke="#000" stroke-width="1.0"/>
<g class="tl" transform="translate(80.10,289.50) rotate(-90)"><text x="0" y="0" font-size="3.6" fill="#000" stroke="#000" stroke-width="0.2" font-family="Liberation Sans, sans-serif">6</text></g>
<line x1="88.90" y1="295.30" x2="92.30" y2="295.30" stroke="#111" stroke-width="0.85"/>
<line x1="91.50" y1="295.10" x2="90.70" y2="296.30" stroke="#555" stroke-width="0.6"/>
<ellipse cx="90.60" cy="291.50" rx="1.8" ry="1.35" fill="none" stroke="#000" stroke-width="1.0"/>
<g class="tl" transform="translate(89.20,289.50) rotate(-90)"><text x="0" y="0" font-size="3.6" fill="#000" stroke="#000" stroke-width="0.2" font-family="Liberation Sans, sans-serif">7</text></g>
<rect x="102.80" y="280.85" width="34.20" height="1.8" fill="#000"/>
<rect x="102.70" y="281.50" width="1" height="3.2" fill="#000"/>
<rect x="106.15" y="281.50" width="0.8" height="2.2" fill="#000"/>
<rect x="108.11" y="281.50" width="0.8" height="2.2" fill="#000"/>
<rect x="109.50" y="281.50" width="0.8" height="2.2" fill="#000"/>
<rect x="110.58" y="281.50" width="0.8" height="2.2" fill="#000"/>
<rect x="111.46" y="281.50" width="0.8" height="2.2" fill="#000"/>
<rect x="112.21" y="281.50" width="0.8" height="2.2" fill="#000"/>
<rect x="112.85" y="281.50" width="0.8" height="2.2" fill="#000"/>
<rect x="113.42" y="281.50" width="0.8" height="2.2" fill="#000"/>
<rect x="113.83" y="281.50" width="1" height="3.2" fill="#000"/>
<rect x="117.28" y="281.50" width="0.8" height="2.2" fill="#000"/>
<rect x="119.25" y="281.50" width="0.8" height="2.2" fill="#000"/>
<rect x="120.64" y="281.50" width="0.8" height="2.2" fill="#000"/>
<rect x="121.72" y="281.50" width="0.8" height="2.2" fill="#000"/>
<rect x="122.60" y="281.50" width="0.8" height="2.2" fill="#000"/>
<rect x="123.34" y="281.50" width="0.8" height="2.2" fill="#000"/>
<rect x="123.99" y="281.50" width="0.8" height="2.2" fill="#000"/>
<rect x="124.56" y="281.50" width="0.8" height="2.2" fill="#000"/>
<rect x="124.97" y="281.50" width="1" height="3.2" fill="#000"/>
<rect x="128.42" y="281.50" width="0.8" height="2.2" fill="#000"/>
<rect x="130.38" y="281.50" width="0.8" height="2.2" fill="#000"/>
<rect x="131.77" y="281.50" width="0.8" height="2.2" fill="#000"/>
<rect x="132.85" y="281.50" width="0.8" height="2.2" fill="#000"/>
<rect x="133.73" y="281.50" width="0.8" height="2.2" fill="#000"/>
<rect x="134.48" y="281.50" width="0.8" height="2.2" fill="#000"/>
<rect x="135.12" y="281.50" width="0.8" height="2.2" fill="#000"/>
<rect x="135.69" y="281.50" width="0.8" height="2.2" fill="#000"/>
<rect x="136.10" y="281.50" width="1" height="3.2" fill="#000"/>
<line x1="103.10" y1="295.30" x2="106.50" y2="295.30" stroke="#111" stroke-width="0.85"/>
<line x1="105.70" y1="295.10" x2="104.90" y2="296.30" stroke="#555" stroke-width="0.6"/>
<ellipse cx="104.80" cy="291.50" rx="1.8" ry="1.35" fill="none" stroke="#000" stroke-width="1.0"/>
<g class="tl" transform="translate(103.40,289.50) rotate(-90)"><text x="0" y="0" font-size="3.6" fill="#000" stroke="#000" stroke-width="0.2" font-family="Liberation Sans, sans-serif">4</text></g>
<line x1="113.90" y1="295.30" x2="117.30" y2="295.30" stroke="#111" stroke-width="0.85"/>
<line x1="116.50" y1="295.10" x2="115.70" y2="296.30" stroke="#555" stroke-width="0.6"/>
<ellipse cx="115.60" cy="291.50" rx="1.8" ry="1.35" fill="none" stroke="#000" stroke-width="1.0"/>
<g class="tl" transform="translate(114.20,289.50) rotate(-90)"><text x="0" y="0" font-size="3.6" fill="#000" stroke="#000" stroke-width="0.2" font-family="Liberation Sans, sans-serif">5</text></g>
<line x1="124.70" y1="295.30" x2="128.10" y2="295.30" stroke="#111" stroke-width="0.85"/>
<line x1="127.30" y1="295.10" x2="126.50" y2="296.30" stroke="#555" stroke-width="0.6"/>
<ellipse cx="126.40" cy="291.50" rx="1.8" ry="1.35" fill="none" stroke="#000" stroke-width="1.0"/>
<g class="tl" transform="translate(125.00,289.50) rotate(-90)"><text x="0" y="0" font-size="3.6" fill="#000" stroke="#000" stroke-width="0.2" font-family="Liberation Sans, sans-serif">6</text></g>
<line x1="135.50" y1="295.30" x2="138.90" y2="295.30" stroke="#111" stroke-width="0.85"/>
<line x1="138.10" y1="295.10" x2="137.30" y2="296.30" stroke="#555" stroke-width="0.6"/>
<ellipse cx="137.20" cy="291.50" rx="1.8" ry="1.35" fill="none" stroke="#000" stroke-width="1.0"/>
<g class="tl" transform="translate(135.80,289.50) rotate(-90)"><text x="0" y="0" font-size="3.6" fill="#000" stroke="#000" stroke-width="0.2" font-family="Liberation Sans, sans-serif">7</text></g>
<rect x="186.90" y="280.85" width="32.10" height="1.8" fill="#000"/>
<rect x="186.80" y="281.50" width="1" height="3.2" fill="#000"/>
<rect x="191.61" y="281.50" width="0.8" height="2.2" fill="#000"/>
<rect x="194.37" y="281.50" width="0.8" height="2.2" fill="#000"/>
<rect x="196.32" y="281.50" width="0.8" height="2.2" fill="#000"/>
<rect x="197.84" y="281.50" width="0.8" height="2.2" fill="#000"/>
<rect x="199.08" y="281.50" width="0.8" height="2.2" fill="#000"/>
<rect x="200.13" y="281.50" width="0.8" height="2.2" fill="#000"/>
<rect x="201.03" y="281.50" width="0.8" height="2.2" fill="#000"/>
<rect x="201.83" y="281.50" width="0.8" height="2.2" fill="#000"/>
<rect x="202.45" y="281.50" width="1" height="3.2" fill="#000"/>
<rect x="207.26" y="281.50" width="0.8" height="2.2" fill="#000"/>
<rect x="210.02" y="281.50" width="0.8" height="2.2" fill="#000"/>
<rect x="211.97" y="281.50" width="0.8" height="2.2" fill="#000"/>
<rect x="213.49" y="281.50" width="0.8" height="2.2" fill="#000"/>
<rect x="214.73" y="281.50" width="0.8" height="2.2" fill="#000"/>
<rect x="215.78" y="281.50" width="0.8" height="2.2" fill="#000"/>
<rect x="216.68" y="281.50" width="0.8" height="2.2" fill="#000"/>
<rect x="217.48" y="281.50" width="0.8" height="2.2" fill="#000"/>
<rect x="218.10" y="281.50" width="1" height="3.2" fill="#000"/>
<line x1="186.60" y1="295.30" x2="190.00" y2="295.30" stroke="#111" stroke-width="0.85"/>
<line x1="189.20" y1="295.10" x2="188.40" y2="296.30" stroke="#555" stroke-width="0.6"/>
<ellipse cx="188.30" cy="291.50" rx="1.8" ry="1.35" fill="none" stroke="#000" stroke-width="1.0"/>
<g class="tl" transform="translate(186.90,289.50) rotate(-90)"><text x="0" y="0" font-size="3.6" fill="#000" stroke="#000" stroke-width="0.2" font-family="Liberation Sans, sans-serif">5</text></g>
<line x1="202.30" y1="295.30" x2="205.70" y2="295.30" stroke="#111" stroke-width="0.85"/>
<line x1="204.90" y1="295.10" x2="204.10" y2="296.30" stroke="#555" stroke-width="0.6"/>
<ellipse cx="204.00" cy="291.50" rx="1.8" ry="1.35" fill="none" stroke="#000" stroke-width="1.0"/>
<g class="tl" transform="translate(202.60,289.50) rotate(-90)"><text x="0" y="0" font-size="3.6" fill="#000" stroke="#000" stroke-width="0.2" font-family="Liberation Sans, sans-serif">6</text></g>
<line x1="217.90" y1="295.30" x2="221.30" y2="295.30" stroke="#111" stroke-width="0.85"/>
<line x1="220.50" y1="295.10" x2="219.70" y2="296.30" stroke="#555" stroke-width="0.6"/>
<ellipse cx="219.60" cy="291.50" rx="1.8" ry="1.35" fill="none" stroke="#000" stroke-width="1.0"/>
<g class="tl" transform="translate(218.20,289.50) rotate(-90)"><text x="0" y="0" font-size="3.6" fill="#000" stroke="#000" stroke-width="0.2" font-family="Liberation Sans, sans-serif">7</text></g>
<text x="65.00" y="307.90" font-size="8.3" textLength="20.80" lengthAdjust="spacingAndGlyphs" fill="#000" stroke="#000" stroke-width="0.34" font-family="Liberation Sans, sans-serif">Unsorted</text>
<text x="98.20" y="307.90" font-size="8.3" textLength="11.40" lengthAdjust="spacingAndGlyphs" fill="#000" stroke="#000" stroke-width="0.34" font-family="Liberation Sans, sans-serif">CD34</text>
<line x1="110.20" y1="303.50" x2="112.10" y2="303.50" stroke="#111" stroke-width="0.55"/>
<line x1="111.15" y1="302.50" x2="111.15" y2="304.50" stroke="#111" stroke-width="0.7"/>
<line x1="112.60" y1="308.40" x2="115.20" y2="302.00" stroke="#111" stroke-width="0.8"/>
<text x="115.90" y="307.90" font-size="8.3" textLength="15.10" lengthAdjust="spacingAndGlyphs" fill="#000" stroke="#000" stroke-width="0.34" font-family="Liberation Sans, sans-serif">CD200</text>
<text x="131.30" y="304.60" font-size="3.2" textLength="2.70" lengthAdjust="spacingAndGlyphs" fill="#000" stroke="#000" stroke-width="0.12" font-family="Liberation Sans, sans-serif">hi</text>
<text x="138.30" y="307.90" font-size="8.3" textLength="11.40" lengthAdjust="spacingAndGlyphs" fill="#000" stroke="#000" stroke-width="0.34" font-family="Liberation Sans, sans-serif">CD34</text>
<line x1="150.30" y1="303.50" x2="152.20" y2="303.50" stroke="#111" stroke-width="0.55"/>
<line x1="151.25" y1="302.50" x2="151.25" y2="304.50" stroke="#111" stroke-width="0.7"/>
<line x1="152.70" y1="308.40" x2="155.30" y2="302.00" stroke="#111" stroke-width="0.8"/>
<text x="156.00" y="307.90" font-size="8.3" textLength="15.10" lengthAdjust="spacingAndGlyphs" fill="#000" stroke="#000" stroke-width="0.34" font-family="Liberation Sans, sans-serif">CD200</text>
<line x1="171.50" y1="303.50" x2="173.20" y2="303.50" stroke="#111" stroke-width="0.55"/>
<text x="179.30" y="307.90" font-size="8.3" textLength="11.40" lengthAdjust="spacingAndGlyphs" fill="#000" stroke="#000" stroke-width="0.34" font-family="Liberation Sans, sans-serif">CD34</text>
<line x1="191.30" y1="303.50" x2="193.20" y2="303.50" stroke="#111" stroke-width="0.55"/>
<line x1="193.70" y1="308.40" x2="196.30" y2="302.00" stroke="#111" stroke-width="0.8"/>
<text x="197.00" y="307.90" font-size="8.3" textLength="15.10" lengthAdjust="spacingAndGlyphs" fill="#000" stroke="#000" stroke-width="0.34" font-family="Liberation Sans, sans-serif">CD200</text>
<text x="212.40" y="304.60" font-size="3.2" textLength="2.70" lengthAdjust="spacingAndGlyphs" fill="#000" stroke="#000" stroke-width="0.12" font-family="Liberation Sans, sans-serif">hi</text>
<text x="220.40" y="307.90" font-size="8.3" textLength="11.40" lengthAdjust="spacingAndGlyphs" fill="#000" stroke="#000" stroke-width="0.34" font-family="Liberation Sans, sans-serif">CD34</text>
<line x1="232.40" y1="303.50" x2="234.30" y2="303.50" stroke="#111" stroke-width="0.55"/>
<line x1="234.80" y1="308.40" x2="237.40" y2="302.00" stroke="#111" stroke-width="0.8"/>
<text x="238.10" y="307.90" font-size="8.3" textLength="15.10" lengthAdjust="spacingAndGlyphs" fill="#000" stroke="#000" stroke-width="0.34" font-family="Liberation Sans, sans-serif">CD200</text>
<line x1="253.60" y1="303.50" x2="255.30" y2="303.50" stroke="#111" stroke-width="0.55"/>
<polygon points="83.90,206.60 86.10,210.40 81.70,210.40" fill="#c5112e"/>
<circle cx="86.80" cy="259.10" r="1.55" fill="#ec008c" stroke="#12060c" stroke-width="1.05"/>
<polygon points="63.30,279.10 63.89,280.68 65.58,280.76 64.26,281.81 64.71,283.44 63.30,282.51 61.89,283.44 62.34,281.81 61.02,280.76 62.71,280.68" fill="#0b6b57"/>
<rect x="68.05" y="279.55" width="3.5" height="3.5" fill="#3bb54a"/>
<polygon points="80.60,279.50 82.80,283.30 78.40,283.30" fill="#f7931e"/>
<polygon points="115.90,222.20 118.10,226.00 113.70,226.00" fill="#c5112e"/>
<polygon points="134.10,222.20 136.30,226.00 131.90,226.00" fill="#c5112e"/>
<polygon points="110.70,236.10 112.90,239.90 108.50,239.90" fill="#c5112e"/>
<circle cx="104.30" cy="264.30" r="1.55" fill="#ec008c" stroke="#12060c" stroke-width="1.05"/>
<polygon points="130.60,254.80 132.80,258.60 128.40,258.60" fill="#f7931e"/>
<polygon points="120.60,279.20 121.19,280.78 122.88,280.86 121.56,281.91 122.01,283.54 120.60,282.61 119.19,283.54 119.64,281.91 118.32,280.86 120.01,280.78" fill="#0b6b57"/>
<polygon points="128.60,279.20 129.19,280.78 130.88,280.86 129.56,281.91 130.01,283.54 128.60,282.61 127.19,283.54 127.64,281.91 126.32,280.86 128.01,280.78" fill="#0b6b57"/>
<rect x="121.45" y="279.75" width="3.5" height="3.5" fill="#3bb54a"/>
<rect x="124.25" y="279.75" width="3.5" height="3.5" fill="#3bb54a"/>
<polygon points="200.50,237.20 202.70,241.00 198.30,241.00" fill="#f7931e"/>
<polygon points="201.50,249.20 203.70,253.00 199.30,253.00" fill="#f7931e"/>
<circle cx="216.05" cy="241.30" r="1.55" fill="#ec008c" stroke="#12060c" stroke-width="1.05"/>
<rect x="201.45" y="279.85" width="3.5" height="3.5" fill="#3bb54a"/>
<rect x="294.60" y="179.70" width="1.6" height="102.40" fill="#000"/>
<rect x="292.40" y="280.80" width="2.4" height="1" fill="#000"/>
<rect x="293.50" y="278.88" width="1.3" height="0.8" fill="#000"/>
<rect x="293.50" y="276.86" width="1.3" height="0.8" fill="#000"/>
<rect x="293.50" y="274.83" width="1.3" height="0.8" fill="#000"/>
<rect x="293.50" y="272.81" width="1.3" height="0.8" fill="#000"/>
<rect x="292.40" y="270.69" width="2.4" height="1" fill="#000"/>
<rect x="293.50" y="268.77" width="1.3" height="0.8" fill="#000"/>
<rect x="293.50" y="266.75" width="1.3" height="0.8" fill="#000"/>
<rect x="293.50" y="264.72" width="1.3" height="0.8" fill="#000"/>
<rect x="293.50" y="262.70" width="1.3" height="0.8" fill="#000"/>
<rect x="292.40" y="260.58" width="2.4" height="1" fill="#000"/>
<rect x="293.50" y="258.66" width="1.3" height="0.8" fill="#000"/>
<rect x="293.50" y="256.64" width="1.3" height="0.8" fill="#000"/>
<rect x="293.50" y="254.61" width="1.3" height="0.8" fill="#000"/>
<rect x="293.50" y="252.59" width="1.3" height="0.8" fill="#000"/>
<rect x="292.40" y="250.47" width="2.4" height="1" fill="#000"/>
<rect x="293.50" y="248.55" width="1.3" height="0.8" fill="#000"/>
<rect x="293.50" y="246.53" width="1.3" height="0.8" fill="#000"/>
<rect x="293.50" y="244.50" width="1.3" height="0.8" fill="#000"/>
<rect x="293.50" y="242.48" width="1.3" height="0.8" fill="#000"/>
<rect x="292.40" y="240.36" width="2.4" height="1" fill="#000"/>
<rect x="293.50" y="238.44" width="1.3" height="0.8" fill="#000"/>
<rect x="293.50" y="236.42" width="1.3" height="0.8" fill="#000"/>
<rect x="293.50" y="234.39" width="1.3" height="0.8" fill="#000"/>
<rect x="293.50" y="232.37" width="1.3" height="0.8" fill="#000"/>
<rect x="292.40" y="230.25" width="2.4" height="1" fill="#000"/>
<rect x="293.50" y="228.33" width="1.3" height="0.8" fill="#000"/>
<rect x="293.50" y="226.31" width="1.3" height="0.8" fill="#000"/>
<rect x="293.50" y="224.28" width="1.3" height="0.8" fill="#000"/>
<rect x="293.50" y="222.26" width="1.3" height="0.8" fill="#000"/>
<rect x="292.40" y="220.14" width="2.4" height="1" fill="#000"/>
<rect x="293.50" y="218.22" width="1.3" height="0.8" fill="#000"/>
<rect x="293.50" y="216.20" width="1.3" height="0.8" fill="#000"/>
<rect x="293.50" y="214.17" width="1.3" height="0.8" fill="#000"/>
<rect x="293.50" y="212.15" width="1.3" height="0.8" fill="#000"/>
<rect x="292.40" y="210.03" width="2.4" height="1" fill="#000"/>
<rect x="293.50" y="208.11" width="1.3" height="0.8" fill="#000"/>
<rect x="293.50" y="206.09" width="1.3" height="0.8" fill="#000"/>
<rect x="293.50" y="204.06" width="1.3" height="0.8" fill="#000"/>
<rect x="293.50" y="202.04" width="1.3" height="0.8" fill="#000"/>
<rect x="292.40" y="199.92" width="2.4" height="1" fill="#000"/>
<rect x="293.50" y="198.00" width="1.3" height="0.8" fill="#000"/>
<rect x="293.50" y="195.98" width="1.3" height="0.8" fill="#000"/>
<rect x="293.50" y="193.95" width="1.3" height="0.8" fill="#000"/>
<rect x="293.50" y="191.93" width="1.3" height="0.8" fill="#000"/>
<rect x="292.40" y="189.81" width="2.4" height="1" fill="#000"/>
<rect x="293.50" y="187.89" width="1.3" height="0.8" fill="#000"/>
<rect x="293.50" y="185.87" width="1.3" height="0.8" fill="#000"/>
<rect x="293.50" y="183.84" width="1.3" height="0.8" fill="#000"/>
<rect x="293.50" y="181.82" width="1.3" height="0.8" fill="#000"/>
<rect x="292.40" y="179.70" width="2.4" height="1" fill="#000"/>
<text x="289.70" y="284.05" font-size="8" text-anchor="end" fill="#000" stroke="#000" stroke-width="0.15" font-family="Liberation Sans, sans-serif">0</text>
<text x="289.70" y="273.94" font-size="8" text-anchor="end" fill="#000" stroke="#000" stroke-width="0.15" font-family="Liberation Sans, sans-serif">10</text>
<text x="289.70" y="263.83" font-size="8" text-anchor="end" fill="#000" stroke="#000" stroke-width="0.15" font-family="Liberation Sans, sans-serif">20</text>
<text x="289.70" y="253.72" font-size="8" text-anchor="end" fill="#000" stroke="#000" stroke-width="0.15" font-family="Liberation Sans, sans-serif">30</text>
<text x="289.70" y="243.61" font-size="8" text-anchor="end" fill="#000" stroke="#000" stroke-width="0.15" font-family="Liberation Sans, sans-serif">40</text>
<text x="289.70" y="233.50" font-size="8" text-anchor="end" fill="#000" stroke="#000" stroke-width="0.15" font-family="Liberation Sans, sans-serif">50</text>
<text x="289.70" y="223.39" font-size="8" text-anchor="end" fill="#000" stroke="#000" stroke-width="0.15" font-family="Liberation Sans, sans-serif">60</text>
<text x="289.70" y="213.28" font-size="8" text-anchor="end" fill="#000" stroke="#000" stroke-width="0.15" font-family="Liberation Sans, sans-serif">70</text>
<text x="289.70" y="203.17" font-size="8" text-anchor="end" fill="#000" stroke="#000" stroke-width="0.15" font-family="Liberation Sans, sans-serif">80</text>
<text x="289.70" y="193.06" font-size="8" text-anchor="end" fill="#000" stroke="#000" stroke-width="0.15" font-family="Liberation Sans, sans-serif">90</text>
<text x="289.70" y="182.95" font-size="8" text-anchor="end" fill="#000" stroke="#000" stroke-width="0.15" font-family="Liberation Sans, sans-serif">100</text>
<rect x="295.00" y="280.65" width="28.90" height="1.8" fill="#000"/>
<rect x="294.90" y="281.30" width="1" height="3.2" fill="#000"/>
<rect x="299.23" y="281.30" width="0.8" height="2.2" fill="#000"/>
<rect x="301.70" y="281.30" width="0.8" height="2.2" fill="#000"/>
<rect x="303.46" y="281.30" width="0.8" height="2.2" fill="#000"/>
<rect x="304.82" y="281.30" width="0.8" height="2.2" fill="#000"/>
<rect x="305.93" y="281.30" width="0.8" height="2.2" fill="#000"/>
<rect x="306.87" y="281.30" width="0.8" height="2.2" fill="#000"/>
<rect x="307.69" y="281.30" width="0.8" height="2.2" fill="#000"/>
<rect x="308.41" y="281.30" width="0.8" height="2.2" fill="#000"/>
<rect x="308.95" y="281.30" width="1" height="3.2" fill="#000"/>
<rect x="313.28" y="281.30" width="0.8" height="2.2" fill="#000"/>
<rect x="315.75" y="281.30" width="0.8" height="2.2" fill="#000"/>
<rect x="317.51" y="281.30" width="0.8" height="2.2" fill="#000"/>
<rect x="318.87" y="281.30" width="0.8" height="2.2" fill="#000"/>
<rect x="319.98" y="281.30" width="0.8" height="2.2" fill="#000"/>
<rect x="320.92" y="281.30" width="0.8" height="2.2" fill="#000"/>
<rect x="321.74" y="281.30" width="0.8" height="2.2" fill="#000"/>
<rect x="322.46" y="281.30" width="0.8" height="2.2" fill="#000"/>
<rect x="323.00" y="281.30" width="1" height="3.2" fill="#000"/>
<line x1="295.40" y1="295.10" x2="298.80" y2="295.10" stroke="#111" stroke-width="0.85"/>
<line x1="298.00" y1="294.90" x2="297.20" y2="296.10" stroke="#555" stroke-width="0.6"/>
<ellipse cx="297.10" cy="291.30" rx="1.8" ry="1.35" fill="none" stroke="#000" stroke-width="1.0"/>
<g class="tl" transform="translate(295.70,289.30) rotate(-90)"><text x="0" y="0" font-size="3.6" fill="#000" stroke="#000" stroke-width="0.2" font-family="Liberation Sans, sans-serif">5</text></g>
<line x1="309.00" y1="295.10" x2="312.40" y2="295.10" stroke="#111" stroke-width="0.85"/>
<line x1="311.60" y1="294.90" x2="310.80" y2="296.10" stroke="#555" stroke-width="0.6"/>
<ellipse cx="310.70" cy="291.30" rx="1.8" ry="1.35" fill="none" stroke="#000" stroke-width="1.0"/>
<g class="tl" transform="translate(309.30,289.30) rotate(-90)"><text x="0" y="0" font-size="3.6" fill="#000" stroke="#000" stroke-width="0.2" font-family="Liberation Sans, sans-serif">6</text></g>
<line x1="323.10" y1="295.10" x2="326.50" y2="295.10" stroke="#111" stroke-width="0.85"/>
<line x1="325.70" y1="294.90" x2="324.90" y2="296.10" stroke="#555" stroke-width="0.6"/>
<ellipse cx="324.80" cy="291.30" rx="1.8" ry="1.35" fill="none" stroke="#000" stroke-width="1.0"/>
<g class="tl" transform="translate(323.40,289.30) rotate(-90)"><text x="0" y="0" font-size="3.6" fill="#000" stroke="#000" stroke-width="0.2" font-family="Liberation Sans, sans-serif">7</text></g>
<rect x="335.80" y="280.65" width="38.00" height="1.8" fill="#000"/>
<rect x="335.70" y="281.30" width="1" height="3.2" fill="#000"/>
<rect x="337.67" y="281.30" width="0.8" height="2.2" fill="#000"/>
<rect x="338.76" y="281.30" width="0.8" height="2.2" fill="#000"/>
<rect x="339.53" y="281.30" width="0.8" height="2.2" fill="#000"/>
<rect x="340.13" y="281.30" width="0.8" height="2.2" fill="#000"/>
<rect x="340.62" y="281.30" width="0.8" height="2.2" fill="#000"/>
<rect x="341.04" y="281.30" width="0.8" height="2.2" fill="#000"/>
<rect x="341.40" y="281.30" width="0.8" height="2.2" fill="#000"/>
<rect x="341.72" y="281.30" width="0.8" height="2.2" fill="#000"/>
<rect x="341.90" y="281.30" width="1" height="3.2" fill="#000"/>
<rect x="343.87" y="281.30" width="0.8" height="2.2" fill="#000"/>
<rect x="344.96" y="281.30" width="0.8" height="2.2" fill="#000"/>
<rect x="345.73" y="281.30" width="0.8" height="2.2" fill="#000"/>
<rect x="346.33" y="281.30" width="0.8" height="2.2" fill="#000"/>
<rect x="346.82" y="281.30" width="0.8" height="2.2" fill="#000"/>
<rect x="347.24" y="281.30" width="0.8" height="2.2" fill="#000"/>
<rect x="347.60" y="281.30" width="0.8" height="2.2" fill="#000"/>
<rect x="347.92" y="281.30" width="0.8" height="2.2" fill="#000"/>
<rect x="348.10" y="281.30" width="1" height="3.2" fill="#000"/>
<rect x="350.07" y="281.30" width="0.8" height="2.2" fill="#000"/>
<rect x="351.16" y="281.30" width="0.8" height="2.2" fill="#000"/>
<rect x="351.93" y="281.30" width="0.8" height="2.2" fill="#000"/>
<rect x="352.53" y="281.30" width="0.8" height="2.2" fill="#000"/>
<rect x="353.02" y="281.30" width="0.8" height="2.2" fill="#000"/>
<rect x="353.44" y="281.30" width="0.8" height="2.2" fill="#000"/>
<rect x="353.80" y="281.30" width="0.8" height="2.2" fill="#000"/>
<rect x="354.12" y="281.30" width="0.8" height="2.2" fill="#000"/>
<rect x="354.30" y="281.30" width="1" height="3.2" fill="#000"/>
<rect x="356.27" y="281.30" width="0.8" height="2.2" fill="#000"/>
<rect x="357.36" y="281.30" width="0.8" height="2.2" fill="#000"/>
<rect x="358.13" y="281.30" width="0.8" height="2.2" fill="#000"/>
<rect x="358.73" y="281.30" width="0.8" height="2.2" fill="#000"/>
<rect x="359.22" y="281.30" width="0.8" height="2.2" fill="#000"/>
<rect x="359.64" y="281.30" width="0.8" height="2.2" fill="#000"/>
<rect x="360.00" y="281.30" width="0.8" height="2.2" fill="#000"/>
<rect x="360.32" y="281.30" width="0.8" height="2.2" fill="#000"/>
<rect x="360.50" y="281.30" width="1" height="3.2" fill="#000"/>
<rect x="362.47" y="281.30" width="0.8" height="2.2" fill="#000"/>
<rect x="363.56" y="281.30" width="0.8" height="2.2" fill="#000"/>
<rect x="364.33" y="281.30" width="0.8" height="2.2" fill="#000"/>
<rect x="364.93" y="281.30" width="0.8" height="2.2" fill="#000"/>
<rect x="365.42" y="281.30" width="0.8" height="2.2" fill="#000"/>
<rect x="365.84" y="281.30" width="0.8" height="2.2" fill="#000"/>
<rect x="366.20" y="281.30" width="0.8" height="2.2" fill="#000"/>
<rect x="366.52" y="281.30" width="0.8" height="2.2" fill="#000"/>
<rect x="366.70" y="281.30" width="1" height="3.2" fill="#000"/>
<rect x="368.67" y="281.30" width="0.8" height="2.2" fill="#000"/>
<rect x="369.76" y="281.30" width="0.8" height="2.2" fill="#000"/>
<rect x="370.53" y="281.30" width="0.8" height="2.2" fill="#000"/>
<rect x="371.13" y="281.30" width="0.8" height="2.2" fill="#000"/>
<rect x="371.62" y="281.30" width="0.8" height="2.2" fill="#000"/>
<rect x="372.04" y="281.30" width="0.8" height="2.2" fill="#000"/>
<rect x="372.40" y="281.30" width="0.8" height="2.2" fill="#000"/>
<rect x="372.72" y="281.30" width="0.8" height="2.2" fill="#000"/>
<rect x="372.90" y="281.30" width="1" height="3.2" fill="#000"/>
<line x1="335.20" y1="295.10" x2="338.60" y2="295.10" stroke="#111" stroke-width="0.85"/>
<line x1="337.80" y1="294.90" x2="337.00" y2="296.10" stroke="#555" stroke-width="0.6"/>
<ellipse cx="336.90" cy="291.30" rx="1.8" ry="1.35" fill="none" stroke="#000" stroke-width="1.0"/>
<g class="tl" transform="translate(335.50,289.30) rotate(-90)"><text x="0" y="0" font-size="3.6" fill="#000" stroke="#000" stroke-width="0.2" font-family="Liberation Sans, sans-serif">1</text></g>
<line x1="341.40" y1="295.10" x2="344.80" y2="295.10" stroke="#111" stroke-width="0.85"/>
<line x1="344.00" y1="294.90" x2="343.20" y2="296.10" stroke="#555" stroke-width="0.6"/>
<ellipse cx="343.10" cy="291.30" rx="1.8" ry="1.35" fill="none" stroke="#000" stroke-width="1.0"/>
<g class="tl" transform="translate(341.70,289.30) rotate(-90)"><text x="0" y="0" font-size="3.6" fill="#000" stroke="#000" stroke-width="0.2" font-family="Liberation Sans, sans-serif">2</text></g>
<line x1="347.70" y1="295.10" x2="351.10" y2="295.10" stroke="#111" stroke-width="0.85"/>
<line x1="350.30" y1="294.90" x2="349.50" y2="296.10" stroke="#555" stroke-width="0.6"/>
<ellipse cx="349.40" cy="291.30" rx="1.8" ry="1.35" fill="none" stroke="#000" stroke-width="1.0"/>
<g class="tl" transform="translate(348.00,289.30) rotate(-90)"><text x="0" y="0" font-size="3.6" fill="#000" stroke="#000" stroke-width="0.2" font-family="Liberation Sans, sans-serif">3</text></g>
<line x1="353.90" y1="295.10" x2="357.30" y2="295.10" stroke="#111" stroke-width="0.85"/>
<line x1="356.50" y1="294.90" x2="355.70" y2="296.10" stroke="#555" stroke-width="0.6"/>
<ellipse cx="355.60" cy="291.30" rx="1.8" ry="1.35" fill="none" stroke="#000" stroke-width="1.0"/>
<g class="tl" transform="translate(354.20,289.30) rotate(-90)"><text x="0" y="0" font-size="3.6" fill="#000" stroke="#000" stroke-width="0.2" font-family="Liberation Sans, sans-serif">4</text></g>
<line x1="360.20" y1="295.10" x2="363.60" y2="295.10" stroke="#111" stroke-width="0.85"/>
<line x1="362.80" y1="294.90" x2="362.00" y2="296.10" stroke="#555" stroke-width="0.6"/>
<ellipse cx="361.90" cy="291.30" rx="1.8" ry="1.35" fill="none" stroke="#000" stroke-width="1.0"/>
<g class="tl" transform="translate(360.50,289.30) rotate(-90)"><text x="0" y="0" font-size="3.6" fill="#000" stroke="#000" stroke-width="0.2" font-family="Liberation Sans, sans-serif">5</text></g>
<line x1="366.40" y1="295.10" x2="369.80" y2="295.10" stroke="#111" stroke-width="0.85"/>
<line x1="369.00" y1="294.90" x2="368.20" y2="296.10" stroke="#555" stroke-width="0.6"/>
<ellipse cx="368.10" cy="291.30" rx="1.8" ry="1.35" fill="none" stroke="#000" stroke-width="1.0"/>
<g class="tl" transform="translate(366.70,289.30) rotate(-90)"><text x="0" y="0" font-size="3.6" fill="#000" stroke="#000" stroke-width="0.2" font-family="Liberation Sans, sans-serif">6</text></g>
<line x1="372.70" y1="295.10" x2="376.10" y2="295.10" stroke="#111" stroke-width="0.85"/>
<line x1="375.30" y1="294.90" x2="374.50" y2="296.10" stroke="#555" stroke-width="0.6"/>
<ellipse cx="374.40" cy="291.30" rx="1.8" ry="1.35" fill="none" stroke="#000" stroke-width="1.0"/>
<g class="tl" transform="translate(373.00,289.30) rotate(-90)"><text x="0" y="0" font-size="3.6" fill="#000" stroke="#000" stroke-width="0.2" font-family="Liberation Sans, sans-serif">7</text></g>
<rect x="385.30" y="280.65" width="27.40" height="1.8" fill="#000"/>
<rect x="385.20" y="281.30" width="1" height="3.2" fill="#000"/>
<rect x="387.97" y="281.30" width="0.8" height="2.2" fill="#000"/>
<rect x="389.53" y="281.30" width="0.8" height="2.2" fill="#000"/>
<rect x="390.64" y="281.30" width="0.8" height="2.2" fill="#000"/>
<rect x="391.50" y="281.30" width="0.8" height="2.2" fill="#000"/>
<rect x="392.20" y="281.30" width="0.8" height="2.2" fill="#000"/>
<rect x="392.79" y="281.30" width="0.8" height="2.2" fill="#000"/>
<rect x="393.31" y="281.30" width="0.8" height="2.2" fill="#000"/>
<rect x="393.76" y="281.30" width="0.8" height="2.2" fill="#000"/>
<rect x="394.07" y="281.30" width="1" height="3.2" fill="#000"/>
<rect x="396.84" y="281.30" width="0.8" height="2.2" fill="#000"/>
<rect x="398.40" y="281.30" width="0.8" height="2.2" fill="#000"/>
<rect x="399.50" y="281.30" width="0.8" height="2.2" fill="#000"/>
<rect x="400.36" y="281.30" width="0.8" height="2.2" fill="#000"/>
<rect x="401.07" y="281.30" width="0.8" height="2.2" fill="#000"/>
<rect x="401.66" y="281.30" width="0.8" height="2.2" fill="#000"/>
<rect x="402.17" y="281.30" width="0.8" height="2.2" fill="#000"/>
<rect x="402.63" y="281.30" width="0.8" height="2.2" fill="#000"/>
<rect x="402.93" y="281.30" width="1" height="3.2" fill="#000"/>
<rect x="405.70" y="281.30" width="0.8" height="2.2" fill="#000"/>
<rect x="407.26" y="281.30" width="0.8" height="2.2" fill="#000"/>
<rect x="408.37" y="281.30" width="0.8" height="2.2" fill="#000"/>
<rect x="409.23" y="281.30" width="0.8" height="2.2" fill="#000"/>
<rect x="409.93" y="281.30" width="0.8" height="2.2" fill="#000"/>
<rect x="410.53" y="281.30" width="0.8" height="2.2" fill="#000"/>
<rect x="411.04" y="281.30" width="0.8" height="2.2" fill="#000"/>
<rect x="411.49" y="281.30" width="0.8" height="2.2" fill="#000"/>
<rect x="411.80" y="281.30" width="1" height="3.2" fill="#000"/>
<line x1="384.60" y1="295.10" x2="388.00" y2="295.10" stroke="#111" stroke-width="0.85"/>
<line x1="387.20" y1="294.90" x2="386.40" y2="296.10" stroke="#555" stroke-width="0.6"/>
<ellipse cx="386.30" cy="291.30" rx="1.8" ry="1.35" fill="none" stroke="#000" stroke-width="1.0"/>
<g class="tl" transform="translate(384.90,289.30) rotate(-90)"><text x="0" y="0" font-size="3.6" fill="#000" stroke="#000" stroke-width="0.2" font-family="Liberation Sans, sans-serif">4</text></g>
<line x1="393.60" y1="295.10" x2="397.00" y2="295.10" stroke="#111" stroke-width="0.85"/>
<line x1="396.20" y1="294.90" x2="395.40" y2="296.10" stroke="#555" stroke-width="0.6"/>
<ellipse cx="395.30" cy="291.30" rx="1.8" ry="1.35" fill="none" stroke="#000" stroke-width="1.0"/>
<g class="tl" transform="translate(393.90,289.30) rotate(-90)"><text x="0" y="0" font-size="3.6" fill="#000" stroke="#000" stroke-width="0.2" font-family="Liberation Sans, sans-serif">5</text></g>
<line x1="402.70" y1="295.10" x2="406.10" y2="295.10" stroke="#111" stroke-width="0.85"/>
<line x1="405.30" y1="294.90" x2="404.50" y2="296.10" stroke="#555" stroke-width="0.6"/>
<ellipse cx="404.40" cy="291.30" rx="1.8" ry="1.35" fill="none" stroke="#000" stroke-width="1.0"/>
<g class="tl" transform="translate(403.00,289.30) rotate(-90)"><text x="0" y="0" font-size="3.6" fill="#000" stroke="#000" stroke-width="0.2" font-family="Liberation Sans, sans-serif">6</text></g>
<line x1="411.70" y1="295.10" x2="415.10" y2="295.10" stroke="#111" stroke-width="0.85"/>
<line x1="414.30" y1="294.90" x2="413.50" y2="296.10" stroke="#555" stroke-width="0.6"/>
<ellipse cx="413.40" cy="291.30" rx="1.8" ry="1.35" fill="none" stroke="#000" stroke-width="1.0"/>
<g class="tl" transform="translate(412.00,289.30) rotate(-90)"><text x="0" y="0" font-size="3.6" fill="#000" stroke="#000" stroke-width="0.2" font-family="Liberation Sans, sans-serif">7</text></g>
<rect x="421.60" y="280.65" width="40.10" height="1.8" fill="#000"/>
<rect x="421.50" y="281.30" width="1" height="3.2" fill="#000"/>
<rect x="423.57" y="281.30" width="0.8" height="2.2" fill="#000"/>
<rect x="424.73" y="281.30" width="0.8" height="2.2" fill="#000"/>
<rect x="425.54" y="281.30" width="0.8" height="2.2" fill="#000"/>
<rect x="426.18" y="281.30" width="0.8" height="2.2" fill="#000"/>
<rect x="426.70" y="281.30" width="0.8" height="2.2" fill="#000"/>
<rect x="427.14" y="281.30" width="0.8" height="2.2" fill="#000"/>
<rect x="427.52" y="281.30" width="0.8" height="2.2" fill="#000"/>
<rect x="427.85" y="281.30" width="0.8" height="2.2" fill="#000"/>
<rect x="428.05" y="281.30" width="1" height="3.2" fill="#000"/>
<rect x="430.12" y="281.30" width="0.8" height="2.2" fill="#000"/>
<rect x="431.28" y="281.30" width="0.8" height="2.2" fill="#000"/>
<rect x="432.09" y="281.30" width="0.8" height="2.2" fill="#000"/>
<rect x="432.73" y="281.30" width="0.8" height="2.2" fill="#000"/>
<rect x="433.25" y="281.30" width="0.8" height="2.2" fill="#000"/>
<rect x="433.69" y="281.30" width="0.8" height="2.2" fill="#000"/>
<rect x="434.07" y="281.30" width="0.8" height="2.2" fill="#000"/>
<rect x="434.40" y="281.30" width="0.8" height="2.2" fill="#000"/>
<rect x="434.60" y="281.30" width="1" height="3.2" fill="#000"/>
<rect x="436.67" y="281.30" width="0.8" height="2.2" fill="#000"/>
<rect x="437.83" y="281.30" width="0.8" height="2.2" fill="#000"/>
<rect x="438.64" y="281.30" width="0.8" height="2.2" fill="#000"/>
<rect x="439.28" y="281.30" width="0.8" height="2.2" fill="#000"/>
<rect x="439.80" y="281.30" width="0.8" height="2.2" fill="#000"/>
<rect x="440.24" y="281.30" width="0.8" height="2.2" fill="#000"/>
<rect x="440.62" y="281.30" width="0.8" height="2.2" fill="#000"/>
<rect x="440.95" y="281.30" width="0.8" height="2.2" fill="#000"/>
<rect x="441.15" y="281.30" width="1" height="3.2" fill="#000"/>
<rect x="443.22" y="281.30" width="0.8" height="2.2" fill="#000"/>
<rect x="444.38" y="281.30" width="0.8" height="2.2" fill="#000"/>
<rect x="445.19" y="281.30" width="0.8" height="2.2" fill="#000"/>
<rect x="445.83" y="281.30" width="0.8" height="2.2" fill="#000"/>
<rect x="446.35" y="281.30" width="0.8" height="2.2" fill="#000"/>
<rect x="446.79" y="281.30" width="0.8" height="2.2" fill="#000"/>
<rect x="447.17" y="281.30" width="0.8" height="2.2" fill="#000"/>
<rect x="447.50" y="281.30" width="0.8" height="2.2" fill="#000"/>
<rect x="447.70" y="281.30" width="1" height="3.2" fill="#000"/>
<rect x="449.77" y="281.30" width="0.8" height="2.2" fill="#000"/>
<rect x="450.93" y="281.30" width="0.8" height="2.2" fill="#000"/>
<rect x="451.74" y="281.30" width="0.8" height="2.2" fill="#000"/>
<rect x="452.38" y="281.30" width="0.8" height="2.2" fill="#000"/>
<rect x="452.90" y="281.30" width="0.8" height="2.2" fill="#000"/>
<rect x="453.34" y="281.30" width="0.8" height="2.2" fill="#000"/>
<rect x="453.72" y="281.30" width="0.8" height="2.2" fill="#000"/>
<rect x="454.05" y="281.30" width="0.8" height="2.2" fill="#000"/>
<rect x="454.25" y="281.30" width="1" height="3.2" fill="#000"/>
<rect x="456.32" y="281.30" width="0.8" height="2.2" fill="#000"/>
<rect x="457.48" y="281.30" width="0.8" height="2.2" fill="#000"/>
<rect x="458.29" y="281.30" width="0.8" height="2.2" fill="#000"/>
<rect x="458.93" y="281.30" width="0.8" height="2.2" fill="#000"/>
<rect x="459.45" y="281.30" width="0.8" height="2.2" fill="#000"/>
<rect x="459.89" y="281.30" width="0.8" height="2.2" fill="#000"/>
<rect x="460.27" y="281.30" width="0.8" height="2.2" fill="#000"/>
<rect x="460.60" y="281.30" width="0.8" height="2.2" fill="#000"/>
<rect x="460.80" y="281.30" width="1" height="3.2" fill="#000"/>
<line x1="421.80" y1="295.10" x2="425.20" y2="295.10" stroke="#111" stroke-width="0.85"/>
<line x1="424.40" y1="294.90" x2="423.60" y2="296.10" stroke="#555" stroke-width="0.6"/>
<ellipse cx="423.50" cy="291.30" rx="1.8" ry="1.35" fill="none" stroke="#000" stroke-width="1.0"/>
<g class="tl" transform="translate(422.10,289.30) rotate(-90)"><text x="0" y="0" font-size="3.6" fill="#000" stroke="#000" stroke-width="0.2" font-family="Liberation Sans, sans-serif">1</text></g>
<line x1="428.20" y1="295.10" x2="431.60" y2="295.10" stroke="#111" stroke-width="0.85"/>
<line x1="430.80" y1="294.90" x2="430.00" y2="296.10" stroke="#555" stroke-width="0.6"/>
<ellipse cx="429.90" cy="291.30" rx="1.8" ry="1.35" fill="none" stroke="#000" stroke-width="1.0"/>
<g class="tl" transform="translate(428.50,289.30) rotate(-90)"><text x="0" y="0" font-size="3.6" fill="#000" stroke="#000" stroke-width="0.2" font-family="Liberation Sans, sans-serif">2</text></g>
<line x1="434.70" y1="295.10" x2="438.10" y2="295.10" stroke="#111" stroke-width="0.85"/>
<line x1="437.30" y1="294.90" x2="436.50" y2="296.10" stroke="#555" stroke-width="0.6"/>
<ellipse cx="436.40" cy="291.30" rx="1.8" ry="1.35" fill="none" stroke="#000" stroke-width="1.0"/>
<g class="tl" transform="translate(435.00,289.30) rotate(-90)"><text x="0" y="0" font-size="3.6" fill="#000" stroke="#000" stroke-width="0.2" font-family="Liberation Sans, sans-serif">3</text></g>
<line x1="441.10" y1="295.10" x2="444.50" y2="295.10" stroke="#111" stroke-width="0.85"/>
<line x1="443.70" y1="294.90" x2="442.90" y2="296.10" stroke="#555" stroke-width="0.6"/>
<ellipse cx="442.80" cy="291.30" rx="1.8" ry="1.35" fill="none" stroke="#000" stroke-width="1.0"/>
<g class="tl" transform="translate(441.40,289.30) rotate(-90)"><text x="0" y="0" font-size="3.6" fill="#000" stroke="#000" stroke-width="0.2" font-family="Liberation Sans, sans-serif">4</text></g>
<line x1="447.60" y1="295.10" x2="451.00" y2="295.10" stroke="#111" stroke-width="0.85"/>
<line x1="450.20" y1="294.90" x2="449.40" y2="296.10" stroke="#555" stroke-width="0.6"/>
<ellipse cx="449.30" cy="291.30" rx="1.8" ry="1.35" fill="none" stroke="#000" stroke-width="1.0"/>
<g class="tl" transform="translate(447.90,289.30) rotate(-90)"><text x="0" y="0" font-size="3.6" fill="#000" stroke="#000" stroke-width="0.2" font-family="Liberation Sans, sans-serif">5</text></g>
<line x1="454.00" y1="295.10" x2="457.40" y2="295.10" stroke="#111" stroke-width="0.85"/>
<line x1="456.60" y1="294.90" x2="455.80" y2="296.10" stroke="#555" stroke-width="0.6"/>
<ellipse cx="455.70" cy="291.30" rx="1.8" ry="1.35" fill="none" stroke="#000" stroke-width="1.0"/>
<g class="tl" transform="translate(454.30,289.30) rotate(-90)"><text x="0" y="0" font-size="3.6" fill="#000" stroke="#000" stroke-width="0.2" font-family="Liberation Sans, sans-serif">6</text></g>
<line x1="460.50" y1="295.10" x2="463.90" y2="295.10" stroke="#111" stroke-width="0.85"/>
<line x1="463.10" y1="294.90" x2="462.30" y2="296.10" stroke="#555" stroke-width="0.6"/>
<ellipse cx="462.20" cy="291.30" rx="1.8" ry="1.35" fill="none" stroke="#000" stroke-width="1.0"/>
<g class="tl" transform="translate(460.80,289.30) rotate(-90)"><text x="0" y="0" font-size="3.6" fill="#000" stroke="#000" stroke-width="0.2" font-family="Liberation Sans, sans-serif">7</text></g>
<rect x="468.20" y="280.65" width="40.60" height="1.8" fill="#000"/>
<rect x="468.10" y="281.30" width="1" height="3.2" fill="#000"/>
<rect x="470.20" y="281.30" width="0.8" height="2.2" fill="#000"/>
<rect x="471.36" y="281.30" width="0.8" height="2.2" fill="#000"/>
<rect x="472.19" y="281.30" width="0.8" height="2.2" fill="#000"/>
<rect x="472.84" y="281.30" width="0.8" height="2.2" fill="#000"/>
<rect x="473.36" y="281.30" width="0.8" height="2.2" fill="#000"/>
<rect x="473.81" y="281.30" width="0.8" height="2.2" fill="#000"/>
<rect x="474.19" y="281.30" width="0.8" height="2.2" fill="#000"/>
<rect x="474.53" y="281.30" width="0.8" height="2.2" fill="#000"/>
<rect x="474.73" y="281.30" width="1" height="3.2" fill="#000"/>
<rect x="476.83" y="281.30" width="0.8" height="2.2" fill="#000"/>
<rect x="478.00" y="281.30" width="0.8" height="2.2" fill="#000"/>
<rect x="478.83" y="281.30" width="0.8" height="2.2" fill="#000"/>
<rect x="479.47" y="281.30" width="0.8" height="2.2" fill="#000"/>
<rect x="480.00" y="281.30" width="0.8" height="2.2" fill="#000"/>
<rect x="480.44" y="281.30" width="0.8" height="2.2" fill="#000"/>
<rect x="480.82" y="281.30" width="0.8" height="2.2" fill="#000"/>
<rect x="481.16" y="281.30" width="0.8" height="2.2" fill="#000"/>
<rect x="481.37" y="281.30" width="1" height="3.2" fill="#000"/>
<rect x="483.46" y="281.30" width="0.8" height="2.2" fill="#000"/>
<rect x="484.63" y="281.30" width="0.8" height="2.2" fill="#000"/>
<rect x="485.46" y="281.30" width="0.8" height="2.2" fill="#000"/>
<rect x="486.10" y="281.30" width="0.8" height="2.2" fill="#000"/>
<rect x="486.63" y="281.30" width="0.8" height="2.2" fill="#000"/>
<rect x="487.07" y="281.30" width="0.8" height="2.2" fill="#000"/>
<rect x="487.46" y="281.30" width="0.8" height="2.2" fill="#000"/>
<rect x="487.80" y="281.30" width="0.8" height="2.2" fill="#000"/>
<rect x="488.00" y="281.30" width="1" height="3.2" fill="#000"/>
<rect x="490.10" y="281.30" width="0.8" height="2.2" fill="#000"/>
<rect x="491.26" y="281.30" width="0.8" height="2.2" fill="#000"/>
<rect x="492.09" y="281.30" width="0.8" height="2.2" fill="#000"/>
<rect x="492.74" y="281.30" width="0.8" height="2.2" fill="#000"/>
<rect x="493.26" y="281.30" width="0.8" height="2.2" fill="#000"/>
<rect x="493.71" y="281.30" width="0.8" height="2.2" fill="#000"/>
<rect x="494.09" y="281.30" width="0.8" height="2.2" fill="#000"/>
<rect x="494.43" y="281.30" width="0.8" height="2.2" fill="#000"/>
<rect x="494.63" y="281.30" width="1" height="3.2" fill="#000"/>
<rect x="496.73" y="281.30" width="0.8" height="2.2" fill="#000"/>
<rect x="497.90" y="281.30" width="0.8" height="2.2" fill="#000"/>
<rect x="498.73" y="281.30" width="0.8" height="2.2" fill="#000"/>
<rect x="499.37" y="281.30" width="0.8" height="2.2" fill="#000"/>
<rect x="499.90" y="281.30" width="0.8" height="2.2" fill="#000"/>
<rect x="500.34" y="281.30" width="0.8" height="2.2" fill="#000"/>
<rect x="500.72" y="281.30" width="0.8" height="2.2" fill="#000"/>
<rect x="501.06" y="281.30" width="0.8" height="2.2" fill="#000"/>
<rect x="501.27" y="281.30" width="1" height="3.2" fill="#000"/>
<rect x="503.36" y="281.30" width="0.8" height="2.2" fill="#000"/>
<rect x="504.53" y="281.30" width="0.8" height="2.2" fill="#000"/>
<rect x="505.36" y="281.30" width="0.8" height="2.2" fill="#000"/>
<rect x="506.00" y="281.30" width="0.8" height="2.2" fill="#000"/>
<rect x="506.53" y="281.30" width="0.8" height="2.2" fill="#000"/>
<rect x="506.97" y="281.30" width="0.8" height="2.2" fill="#000"/>
<rect x="507.36" y="281.30" width="0.8" height="2.2" fill="#000"/>
<rect x="507.70" y="281.30" width="0.8" height="2.2" fill="#000"/>
<rect x="507.90" y="281.30" width="1" height="3.2" fill="#000"/>
<line x1="467.70" y1="295.10" x2="471.10" y2="295.10" stroke="#111" stroke-width="0.85"/>
<line x1="470.30" y1="294.90" x2="469.50" y2="296.10" stroke="#555" stroke-width="0.6"/>
<ellipse cx="469.40" cy="291.30" rx="1.8" ry="1.35" fill="none" stroke="#000" stroke-width="1.0"/>
<g class="tl" transform="translate(468.00,289.30) rotate(-90)"><text x="0" y="0" font-size="3.6" fill="#000" stroke="#000" stroke-width="0.2" font-family="Liberation Sans, sans-serif">1</text></g>
<line x1="474.20" y1="295.10" x2="477.60" y2="295.10" stroke="#111" stroke-width="0.85"/>
<line x1="476.80" y1="294.90" x2="476.00" y2="296.10" stroke="#555" stroke-width="0.6"/>
<ellipse cx="475.90" cy="291.30" rx="1.8" ry="1.35" fill="none" stroke="#000" stroke-width="1.0"/>
<g class="tl" transform="translate(474.50,289.30) rotate(-90)"><text x="0" y="0" font-size="3.6" fill="#000" stroke="#000" stroke-width="0.2" font-family="Liberation Sans, sans-serif">2</text></g>
<line x1="480.70" y1="295.10" x2="484.10" y2="295.10" stroke="#111" stroke-width="0.85"/>
<line x1="483.30" y1="294.90" x2="482.50" y2="296.10" stroke="#555" stroke-width="0.6"/>
<ellipse cx="482.40" cy="291.30" rx="1.8" ry="1.35" fill="none" stroke="#000" stroke-width="1.0"/>
<g class="tl" transform="translate(481.00,289.30) rotate(-90)"><text x="0" y="0" font-size="3.6" fill="#000" stroke="#000" stroke-width="0.2" font-family="Liberation Sans, sans-serif">3</text></g>
<line x1="487.20" y1="295.10" x2="490.60" y2="295.10" stroke="#111" stroke-width="0.85"/>
<line x1="489.80" y1="294.90" x2="489.00" y2="296.10" stroke="#555" stroke-width="0.6"/>
<ellipse cx="488.90" cy="291.30" rx="1.8" ry="1.35" fill="none" stroke="#000" stroke-width="1.0"/>
<g class="tl" transform="translate(487.50,289.30) rotate(-90)"><text x="0" y="0" font-size="3.6" fill="#000" stroke="#000" stroke-width="0.2" font-family="Liberation Sans, sans-serif">4</text></g>
<line x1="493.70" y1="295.10" x2="497.10" y2="295.10" stroke="#111" stroke-width="0.85"/>
<line x1="496.30" y1="294.90" x2="495.50" y2="296.10" stroke="#555" stroke-width="0.6"/>
<ellipse cx="495.40" cy="291.30" rx="1.8" ry="1.35" fill="none" stroke="#000" stroke-width="1.0"/>
<g class="tl" transform="translate(494.00,289.30) rotate(-90)"><text x="0" y="0" font-size="3.6" fill="#000" stroke="#000" stroke-width="0.2" font-family="Liberation Sans, sans-serif">5</text></g>
<line x1="500.20" y1="295.10" x2="503.60" y2="295.10" stroke="#111" stroke-width="0.85"/>
<line x1="502.80" y1="294.90" x2="502.00" y2="296.10" stroke="#555" stroke-width="0.6"/>
<ellipse cx="501.90" cy="291.30" rx="1.8" ry="1.35" fill="none" stroke="#000" stroke-width="1.0"/>
<g class="tl" transform="translate(500.50,289.30) rotate(-90)"><text x="0" y="0" font-size="3.6" fill="#000" stroke="#000" stroke-width="0.2" font-family="Liberation Sans, sans-serif">6</text></g>
<line x1="506.70" y1="295.10" x2="510.10" y2="295.10" stroke="#111" stroke-width="0.85"/>
<line x1="509.30" y1="294.90" x2="508.50" y2="296.10" stroke="#555" stroke-width="0.6"/>
<ellipse cx="508.40" cy="291.30" rx="1.8" ry="1.35" fill="none" stroke="#000" stroke-width="1.0"/>
<g class="tl" transform="translate(507.00,289.30) rotate(-90)"><text x="0" y="0" font-size="3.6" fill="#000" stroke="#000" stroke-width="0.2" font-family="Liberation Sans, sans-serif">7</text></g>
<text x="299.00" y="307.90" font-size="8.3" textLength="20.80" lengthAdjust="spacingAndGlyphs" fill="#000" stroke="#000" stroke-width="0.34" font-family="Liberation Sans, sans-serif">Unsorted</text>
<text x="337.20" y="307.90" font-size="8.3" textLength="11.40" lengthAdjust="spacingAndGlyphs" fill="#000" stroke="#000" stroke-width="0.34" font-family="Liberation Sans, sans-serif">CD34</text>
<line x1="349.20" y1="303.50" x2="351.10" y2="303.50" stroke="#111" stroke-width="0.55"/>
<line x1="350.15" y1="302.50" x2="350.15" y2="304.50" stroke="#111" stroke-width="0.7"/>
<line x1="351.60" y1="308.40" x2="354.20" y2="302.00" stroke="#111" stroke-width="0.8"/>
<text x="354.90" y="307.90" font-size="8.3" textLength="15.10" lengthAdjust="spacingAndGlyphs" fill="#000" stroke="#000" stroke-width="0.34" font-family="Liberation Sans, sans-serif">CD200</text>
<text x="370.30" y="304.60" font-size="3.2" textLength="2.70" lengthAdjust="spacingAndGlyphs" fill="#000" stroke="#000" stroke-width="0.12" font-family="Liberation Sans, sans-serif">hi</text>
<text x="381.40" y="307.90" font-size="8.3" textLength="11.40" lengthAdjust="spacingAndGlyphs" fill="#000" stroke="#000" stroke-width="0.34" font-family="Liberation Sans, sans-serif">CD34</text>
<line x1="393.40" y1="303.50" x2="395.30" y2="303.50" stroke="#111" stroke-width="0.55"/>
<line x1="394.35" y1="302.50" x2="394.35" y2="304.50" stroke="#111" stroke-width="0.7"/>
<line x1="395.80" y1="308.40" x2="398.40" y2="302.00" stroke="#111" stroke-width="0.8"/>
<text x="399.10" y="307.90" font-size="8.3" textLength="15.10" lengthAdjust="spacingAndGlyphs" fill="#000" stroke="#000" stroke-width="0.34" font-family="Liberation Sans, sans-serif">CD200</text>
<line x1="414.60" y1="303.50" x2="416.30" y2="303.50" stroke="#111" stroke-width="0.55"/>
<text x="424.30" y="307.90" font-size="8.3" textLength="11.40" lengthAdjust="spacingAndGlyphs" fill="#000" stroke="#000" stroke-width="0.34" font-family="Liberation Sans, sans-serif">CD34</text>
<line x1="436.30" y1="303.50" x2="438.20" y2="303.50" stroke="#111" stroke-width="0.55"/>
<line x1="438.70" y1="308.40" x2="441.30" y2="302.00" stroke="#111" stroke-width="0.8"/>
<text x="442.00" y="307.90" font-size="8.3" textLength="15.10" lengthAdjust="spacingAndGlyphs" fill="#000" stroke="#000" stroke-width="0.34" font-family="Liberation Sans, sans-serif">CD200</text>
<text x="457.40" y="304.60" font-size="3.2" textLength="2.70" lengthAdjust="spacingAndGlyphs" fill="#000" stroke="#000" stroke-width="0.12" font-family="Liberation Sans, sans-serif">hi</text>
<text x="470.50" y="307.90" font-size="8.3" textLength="11.40" lengthAdjust="spacingAndGlyphs" fill="#000" stroke="#000" stroke-width="0.34" font-family="Liberation Sans, sans-serif">CD34</text>
<line x1="482.50" y1="303.50" x2="484.40" y2="303.50" stroke="#111" stroke-width="0.55"/>
<line x1="484.90" y1="308.40" x2="487.50" y2="302.00" stroke="#111" stroke-width="0.8"/>
<text x="488.20" y="307.90" font-size="8.3" textLength="15.10" lengthAdjust="spacingAndGlyphs" fill="#000" stroke="#000" stroke-width="0.34" font-family="Liberation Sans, sans-serif">CD200</text>
<line x1="503.70" y1="303.50" x2="505.40" y2="303.50" stroke="#111" stroke-width="0.55"/>
<circle cx="322.60" cy="185.80" r="1.5" fill="#8a8ad2" stroke="#101018" stroke-width="1.25"/>
<circle cx="322.60" cy="200.80" r="1.8" fill="#4b1170"/>
<circle cx="306.50" cy="281.30" r="1.6" fill="#1670a8" stroke="#0a1822" stroke-width="0.9"/>
<polygon points="299.35,280.00 298.32,281.78 296.28,281.78 295.25,280.00 296.28,278.22 298.32,278.22" fill="#0c0c10"/>
<circle cx="353.80" cy="184.20" r="1.5" fill="#8a8ad2" stroke="#101018" stroke-width="1.25"/>
<circle cx="350.50" cy="208.20" r="1.85" fill="#0f4f92"/>
<circle cx="356.30" cy="212.80" r="1.85" fill="#0f4f92"/>
<circle cx="369.20" cy="203.50" r="1.8" fill="#4b1170"/>
<circle cx="340.00" cy="281.30" r="1.6" fill="#1670a8" stroke="#0a1822" stroke-width="0.9"/>
<circle cx="350.70" cy="281.30" r="1.6" fill="#1670a8" stroke="#0a1822" stroke-width="0.9"/>
<polygon points="355.95,281.10 354.92,282.88 352.88,282.88 351.85,281.10 352.88,279.32 354.92,279.32" fill="#0c0c10"/>
<circle cx="411.70" cy="183.70" r="1.5" fill="#8a8ad2" stroke="#101018" stroke-width="1.25"/>
<circle cx="391.60" cy="217.00" r="1.8" fill="#4b1170"/>
<circle cx="388.80" cy="281.30" r="1.6" fill="#1670a8" stroke="#0a1822" stroke-width="0.9"/>
<polygon points="393.45,281.10 392.42,282.88 390.38,282.88 389.35,281.10 390.38,279.32 392.42,279.32" fill="#0c0c10"/>
<circle cx="448.30" cy="190.00" r="1.5" fill="#8a8ad2" stroke="#101018" stroke-width="1.25"/>
<circle cx="452.50" cy="201.30" r="1.85" fill="#0f4f92"/>
<circle cx="451.80" cy="210.60" r="1.85" fill="#0f4f92"/>
<circle cx="455.80" cy="210.80" r="1.8" fill="#4b1170"/>
<circle cx="454.60" cy="213.10" r="1.8" fill="#4b1170"/>
<circle cx="425.20" cy="281.30" r="1.6" fill="#1670a8" stroke="#0a1822" stroke-width="0.9"/>
<polygon points="442.25,280.90 441.22,282.68 439.18,282.68 438.15,280.90 439.18,279.12 441.22,279.12" fill="#0c0c10"/>
<circle cx="499.30" cy="182.50" r="1.5" fill="#8a8ad2" stroke="#101018" stroke-width="1.25"/>
<circle cx="495.30" cy="195.90" r="1.85" fill="#0f4f92"/>
<circle cx="481.40" cy="200.00" r="1.85" fill="#0f4f92"/>
<circle cx="503.20" cy="225.10" r="1.8" fill="#4b1170"/>
<circle cx="471.50" cy="281.30" r="1.6" fill="#1670a8" stroke="#0a1822" stroke-width="0.9"/>
<circle cx="487.30" cy="281.30" r="1.6" fill="#1670a8" stroke="#0a1822" stroke-width="0.9"/>
<polygon points="491.65,281.10 490.62,282.88 488.58,282.88 487.55,281.10 488.58,279.32 490.62,279.32" fill="#0c0c10"/>
<text x="43.8" y="326.4" font-size="11.3" font-weight="bold" textLength="14.4" lengthAdjust="spacingAndGlyphs" fill="#111" font-family="Liberation Sans, sans-serif">Key:</text>
<polygon points="77.30,320.60 80.80,326.40 73.80,326.40" fill="#c5112e"/>
<text x="90.2" y="325.9" font-size="7.5" fill="#111" stroke="#111" stroke-width="0.12" font-family="Liberation Sans, sans-serif">Pt. 14</text>
<circle cx="137.50" cy="323.30" r="3.4" fill="#164b87"/>
<text x="149.9" y="325.9" font-size="7.5" fill="#111" stroke="#111" stroke-width="0.12" font-family="Liberation Sans, sans-serif">Pt. 22</text>
<rect x="195.55" y="320.55" width="5.5" height="5.5" fill="#3bb54a"/>
<text x="210.8" y="325.9" font-size="7.5" fill="#111" stroke="#111" stroke-width="0.12" font-family="Liberation Sans, sans-serif">Pt. 23</text>
<circle cx="258.30" cy="323.30" r="3.3" fill="#57237f"/>
<text x="271" y="325.9" font-size="7.5" fill="#111" stroke="#111" stroke-width="0.12" font-family="Liberation Sans, sans-serif">Pt. 24</text>
<polygon points="322.20,320.60 325.70,326.40 318.70,326.40" fill="#f7931e"/>
<text x="335" y="325.9" font-size="7.5" fill="#111" stroke="#111" stroke-width="0.12" font-family="Liberation Sans, sans-serif">Pt. 25</text>
<polygon points="385.60,319.80 386.54,322.31 389.21,322.43 387.12,324.09 387.83,326.67 385.60,325.20 383.37,326.67 384.08,324.09 381.99,322.43 384.66,322.31" fill="#0b6b57"/>
<text x="398.5" y="325.9" font-size="7.5" fill="#111" stroke="#111" stroke-width="0.12" font-family="Liberation Sans, sans-serif">Pt. 26</text>
<circle cx="450.40" cy="323.30" r="2.8" fill="#8a8ad2" stroke="#15151f" stroke-width="1.0"/>
<text x="463.8" y="325.9" font-size="7.5" fill="#111" stroke="#111" stroke-width="0.12" font-family="Liberation Sans, sans-serif">Pt. 27</text>
<polygon points="80.50,339.70 78.80,342.64 75.40,342.64 73.70,339.70 75.40,336.76 78.80,336.76" fill="#20232c"/>
<text x="90.2" y="342.4" font-size="7.5" fill="#111" stroke="#111" stroke-width="0.12" font-family="Liberation Sans, sans-serif">Pt. 28</text>
<circle cx="137.50" cy="339.90" r="3.5" fill="#0a0a0a"/>
<circle cx="137.50" cy="339.90" r="2.5" fill="#35adee"/>
<circle cx="137.50" cy="339.90" r="1.1" fill="#08121c"/>
<text x="149.9" y="342.4" font-size="7.5" fill="#111" stroke="#111" stroke-width="0.12" font-family="Liberation Sans, sans-serif">Pt. 29</text>
<circle cx="197.90" cy="339.90" r="2.85" fill="#ec008c" stroke="#0a0a0a" stroke-width="1.0"/>
<text x="210.8" y="342.4" font-size="7.5" fill="#111" stroke="#111" stroke-width="0.12" font-family="Liberation Sans, sans-serif">Pt. 30</text>
</g>
<rect x="0" y="0" width="520" height="1.25" fill="#000"/>
<rect x="0" y="0" width="1.25" height="350" fill="#000"/>
<rect x="518.65" y="0" width="1.35" height="350" fill="#000"/>
<rect x="0" y="348.3" width="520" height="1.7" fill="#000"/>
</svg>
</body></html>
